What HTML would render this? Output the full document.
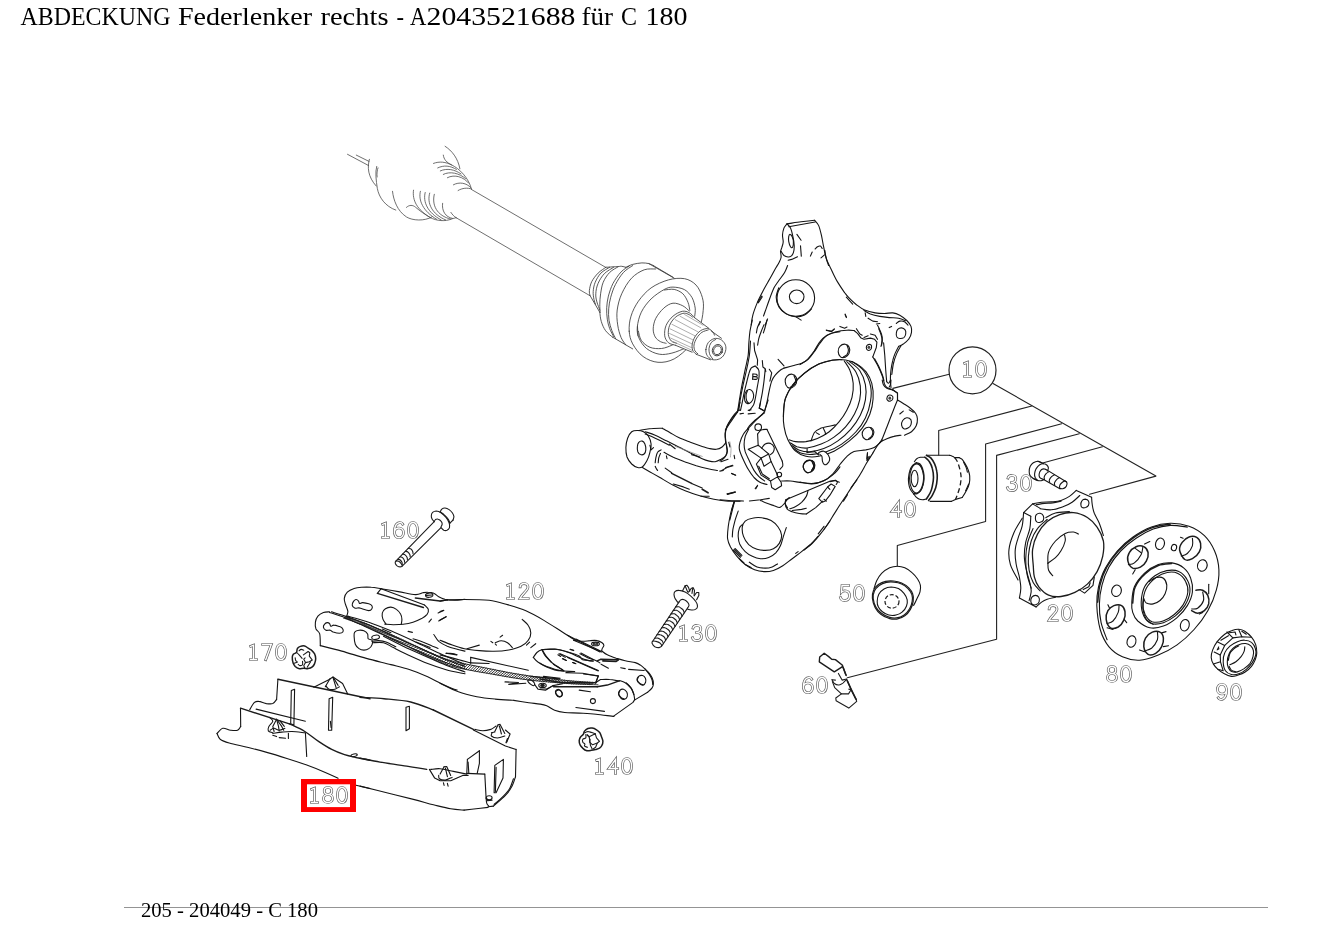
<!DOCTYPE html>
<html><head><meta charset="utf-8"><title>ABDECKUNG Federlenker rechts</title>
<style>
html,body{margin:0;padding:0;background:#fff;}
body{width:1326px;height:937px;overflow:hidden;font-family:"Liberation Serif",serif;}
svg{display:block;position:absolute;left:0;top:0;will-change:transform;}
.t{font-family:"Liberation Serif",serif;font-size:25.5px;fill:#000;stroke:none;}
.f{font-family:"Liberation Serif",serif;font-size:20px;fill:#000;stroke:none;}
.o{stroke:#5a5a5a;stroke-width:2.7}.i{stroke:#fff;stroke-width:1.4}
</style></head><body>
<svg width="1326" height="937" viewBox="0 0 1326 937" fill="none" stroke-linecap="round" stroke-linejoin="round">
<rect x="0" y="0" width="1326" height="937" fill="#fff" stroke="none"/>
<g class="t" opacity="0.999">
<text x="20.5" y="25" textLength="150" lengthAdjust="spacingAndGlyphs">ABDECKUNG</text>
<text x="178" y="25" textLength="134" lengthAdjust="spacingAndGlyphs">Federlenker</text>
<text x="320.5" y="25" textLength="68" lengthAdjust="spacingAndGlyphs">rechts</text>
<text x="396.5" y="25" textLength="7.5" lengthAdjust="spacingAndGlyphs">-</text>
<text x="410" y="25" textLength="16.3" lengthAdjust="spacingAndGlyphs">A</text>
<text x="426.6" y="25" textLength="148.8" lengthAdjust="spacingAndGlyphs">2043521688</text>
<text x="581.5" y="25" textLength="31.5" lengthAdjust="spacingAndGlyphs">für</text>
<text x="621" y="25" textLength="16" lengthAdjust="spacingAndGlyphs">C</text>
<text x="645.5" y="25" textLength="42" lengthAdjust="spacingAndGlyphs">180</text>
</g>
<rect x="124" y="907" width="1144" height="1" fill="#949494" stroke="none"/>
<text class="f" opacity="0.999" x="141" y="917.4" textLength="177" lengthAdjust="spacingAndGlyphs">205 - 204049 - C 180</text>
<defs><path id="d0" d="M6 1.5C2.8 1.5 1.5 5.2 1.5 9C1.5 12.8 2.8 16.5 6 16.5C9.2 16.5 10.5 12.8 10.5 9C10.5 5.2 9.2 1.5 6 1.5Z"/><path id="d1" d="M3.7 3.3L6.5 2.2L6.5 16.5M3.6 16.5L9.4 16.5"/><path id="d2" d="M2.1 4.9C2.1 0.4 10 0.4 10 5.1C10 8.7 4.4 11.5 1.9 16.5L10.2 16.5"/><path id="d3" d="M2 4C3 0.5 9.8 0.5 9.8 4.8C9.8 7.4 7.6 8.5 5.6 8.5M5.6 8.5C8 8.5 10.5 9.7 10.5 12.5C10.5 17.5 2.8 18 1.5 13.8"/><path id="d4" d="M8.5 16.5L8.5 2.6L1.9 11.5L10.7 11.5"/><path id="d5" d="M9.6 1.5L3 1.5L2.5 8.2C4.2 6.3 10.5 5.9 10.5 11.4C10.5 17.5 2.8 18 1.5 13.7"/><path id="d6" d="M9.7 3.2C8.2 0.3 1.5 0.7 1.5 10.4C1.5 18.6 10.5 18.6 10.5 11.8C10.5 5.5 1.5 5.5 1.5 11.2"/><path id="d7" d="M1.7 1.5L10.3 1.5L4.7 16.7"/><path id="d8" d="M6 8.5C3.8 8.5 2.2 7.1 2.2 5C2.2 2.9 3.8 1.5 6 1.5C8.2 1.5 9.8 2.9 9.8 5C9.8 7.1 8.2 8.5 6 8.5C3.4 8.5 1.5 10.2 1.5 12.5C1.5 14.8 3.4 16.5 6 16.5C8.6 16.5 10.5 14.8 10.5 12.5C10.5 10.2 8.6 8.5 6 8.5Z"/><path id="d9" d="M2.3 14.8C3.8 17.7 10.5 17.3 10.5 7.6C10.5 -0.6 1.5 -0.6 1.5 6.2C1.5 12.5 10.5 12.5 10.5 6.8"/></defs>
<g stroke="#4a4a4a" stroke-width="0.8"><path d="M347.5 154.3L368.7 165.6"/><path d="M356.3 155.1L369 161.4"/><path d="M369.4 159.3C367.1 167.1 367.9 177 376.2 186"/><path d="M376.7 166.4C375 172.4 376.2 180.7 377.3 188.3C378.9 197.3 385.2 206.4 395.8 210.1"/><path d="M378 167.9C377.1 170.2 376.7 173.5 377.1 177"/><path d="M392.5 191.3C393.5 200.3 397.3 210.9 406.4 216.9C412.4 220.7 424.5 221.4 432 216.9"/><path d="M406.4 207.4C409.4 204.6 412.7 204.9 415.4 207.1C419.9 210.9 424.5 214.2 430.5 217.7"/><path d="M413.5 190.2C412.1 200.3 416.9 209.7 430.5 217.7"/><path d="M420.4 191.3C418.1 200.3 423 211.2 436.5 219.2"/><path d="M425.2 192.5C422.7 201.8 427.5 212.7 441.1 219.9"/><path d="M429.7 193.1C426.7 203.3 432 214.2 445.6 219.9"/><path d="M434.3 194.3C431.7 204.9 436.5 215.7 450.9 219.2"/><path d="M442.6 203.3C441.5 210.9 445.6 217.2 452.4 218.4"/><path d="M450.9 212.4C452.4 214.7 453.9 216.3 456.1 217.7"/><path d="M430.5 217.7C436.5 221 445.6 221.7 451.6 218.9L456.1 217.7"/><path d="M445.1 146.3C451.9 150.6 457.9 158.1 459.9 168.7"/><path d="M443.3 155.1C443.8 159.6 446.8 162.6 451.6 164.9C459.5 168.7 468.5 177.7 471.5 189"/><path d="M433.5 163.4C439.5 161.1 445.6 161.9 451.6 164.9"/><path d="M437.7 167.9C444.1 164.9 450.1 165.6 456.4 169.4"/><path d="M440.3 170.9C447.1 167.9 454.6 169.4 461 173.9"/><path d="M443.3 174.4C450.1 170.9 459.2 173.2 465.5 178.5"/><path d="M447.4 177.7C454.6 173.9 463.7 177 468.5 183"/><path d="M453.4 184.8C459.2 181.5 466.7 183 470.6 187.5"/><path d="M458.1 190.5C462.2 188 467.5 187.5 471.5 189"/></g>
<g stroke="#4a4a4a" stroke-width="0.8"><path d="M471.5 189.5L605.6 267.3"/><path d="M456.1 217.7L589.6 295.5"/></g>
<g stroke="#3a3a3a" stroke-width="0.85"><path d="M605.9 267.3C604.6 268.3 600.4 270.7 598.1 273.1C595.7 275.5 593.2 278.8 591.7 281.7C590.3 284.6 589.7 288 589.4 290.4C589.1 292.7 589.9 294.7 590 295.5"/><path d="M590 295.5L599.8 312.3"/><path d="M599.8 312.3C600 313.8 600.3 318.4 601.3 321.5C602.2 324.6 603.7 328.1 605.6 330.7C607.4 333.3 611.3 336 612.5 337.1"/><path d="M612.5 337.1L632.7 348.9"/><path d="M609.6 267.3C608.1 268.3 603.3 270.6 600.9 273.1C598.5 275.6 596.5 279.2 595.2 282.3C593.9 285.4 593.4 288.6 593.2 291.5C593 294.4 593.6 297.5 594 299.6C594.4 301.7 595.3 303.4 595.5 304.2"/><path d="M613.6 267.3C612.1 268.4 607 270.9 604.4 273.6C601.8 276.3 599.5 280.1 598.1 283.4C596.6 286.8 595.9 290.7 595.8 293.8C595.6 296.9 596.2 299.2 596.9 301.9C597.6 304.6 599.3 308.6 599.8 310"/><path d="M618.2 266.7C616.8 267.7 612.1 269.9 609.6 272.5C607.1 275.1 604.7 278.7 603.2 282.3C601.7 285.8 601.2 290.2 600.6 293.8C600 297.5 599.9 301.1 599.8 304.2C599.7 307.3 600.1 310.9 600.1 312.3"/><path d="M605.9 267.3C606.9 267.2 609.8 267.1 611.9 266.9C614 266.8 616.6 266.7 618.2 266.6C619.9 266.5 620.4 266.1 621.7 266.3C622.9 266.4 625.1 267.1 625.7 267.3"/><path d="M625.7 267.3C626.9 266.8 630 265.1 632.7 264.4C635.3 263.7 639.2 263 641.9 262.9C644.6 262.8 646.9 263.2 648.8 263.6C650.7 264 652.6 265.2 653.4 265.6"/><path d="M648.8 263.6L674.2 278.2"/><path d="M653.4 265.6L673 277.2"/><path d="M629.2 266.1C627.8 267.1 623.8 269 621.1 271.9C618.4 274.8 615.2 279.4 613 283.4C610.9 287.5 609.5 292.1 608.4 296.1C607.4 300.2 606.9 303.8 606.7 307.7C606.5 311.5 606.8 315.7 607.3 319.2C607.8 322.6 608.5 325.5 609.6 328.4C610.6 331.3 613 335.1 613.6 336.5"/><path d="M632.7 265.6C631.1 266.7 626.3 269.3 623.4 272.5C620.5 275.7 617.5 280.5 615.4 284.6C613.2 288.7 611.9 293.2 610.7 297.3C609.6 301.3 609 305 608.7 308.8C608.4 312.6 608.5 316.7 609 320.3C609.6 324 610.8 327.7 611.9 330.7C613 333.7 615 337.2 615.6 338.6"/><path d="M655.7 269C653.8 269.2 648.2 268.3 644.2 269.8C640.1 271.4 635.2 274.3 631.5 278.2C627.7 282.2 624.1 288.5 621.7 293.8C619.3 299.1 617.9 304.8 617.2 310C616.5 315.1 617 320.3 617.7 324.9C618.3 329.6 619.8 334.3 621.1 337.6C622.5 340.9 625 343.6 625.7 344.8"/></g>
<g stroke="#3a3a3a" stroke-width="0.85"><path d="M629.2 331.2C628.9 326.6 629.4 321.2 631 316.2C632.5 311.2 635.1 305.9 638.4 301.2C641.8 296.5 646.1 291.5 651.1 287.9C656.1 284.4 662.9 281.4 668.4 279.9C674 278.3 680 277.9 684.6 278.7C689.2 279.6 693.1 281.9 696.1 285.1C699.1 288.2 701.2 293.5 702.4 297.7C703.6 302 703.7 305.4 703.2 310.4C702.8 315.4 701.7 322 699.6 327.7C697.4 333.5 694.6 339.8 690.3 345C686.1 350.2 679.6 356 674.2 358.9C668.8 361.7 663.2 362.7 658 362.3C652.9 361.9 647.3 359.6 643.1 356.5C638.8 353.5 635 348.1 632.7 343.9C630.4 339.6 629.5 335.8 629.2 331.2Z"/><path d="M685.1 348.2C682.9 349.1 676.2 352.1 671.9 353.1C667.6 354.1 663.4 355 659.2 354.2C655 353.5 649.9 351.2 646.5 348.5C643.2 345.8 640.6 341.7 639 338.1C637.5 334.5 636.9 331.5 637.3 327.1C637.7 322.8 639 316.9 641.3 312.2C643.6 307.4 647.3 302.7 651.1 298.9C655 295.1 660.7 291.4 664.4 289.4C668 287.5 669.7 287.1 673 287.1C676.4 287.2 681.4 287.9 684.6 289.7C687.7 291.4 690.3 294.7 692.1 297.7C693.8 300.8 694.7 305 695.2 308.1C695.6 311.2 694.8 314.8 694.7 316.2"/><path d="M664.4 290C666 289.9 671.1 288.8 674.2 289.4C677.3 290.1 680.5 291.6 682.8 293.7C685.1 295.9 686.9 299.6 688 302.4C689.2 305.1 689.5 309.1 689.8 310.4"/><path d="M638.4 331.2C638.9 332.7 639.4 337.7 641.3 340.4C643.3 343.1 646.6 346 650 347.3C653.3 348.7 657.9 348.8 661.5 348.5C665.2 348.1 669.2 346.4 671.9 345.2C674.6 344.1 676.7 342.2 677.7 341.6"/><path d="M637.5 326.6L638 335.8"/><path d="M694.4 317.3L689.2 312.7L682.3 311.3L673 316.2L666.1 325.4L664.7 335.8L668.4 342.7L675.3 345.2L692.1 352.2L696.7 354.5L710.5 359.8L718 359.4L723.2 356L725.8 349.6L724.9 343.9L720.3 339.3L714.5 335.2L708.8 328.3Z" fill="#fff" stroke="none"/><path d="M689.2 311C688.1 310.1 685.5 307.1 682.8 305.8C680.1 304.5 676.2 302.8 673 303.2C669.9 303.5 666.7 305.6 663.8 308.1C660.9 310.7 657.5 315 655.7 318.5C654 322 653.3 325.8 653.2 328.9C653.1 331.9 654 334.8 655.2 336.9C656.4 339.1 658.5 340.5 660.4 341.6C662.2 342.6 665.2 343 666.1 343.3"/><path d="M694.4 317.3C693.5 316.6 691.2 313.7 689.2 312.7C687.2 311.7 685 310.8 682.3 311.3C679.6 311.9 675.7 313.8 673 316.2C670.3 318.5 667.5 322.1 666.1 325.4C664.7 328.7 664.4 332.9 664.7 335.8C665.1 338.7 666.7 341.1 668.4 342.7C670.2 344.3 674.2 344.8 675.3 345.2"/><path d="M692.6 317.1C691.9 316.6 689.7 314.7 688 314.1C686.4 313.5 685 312.9 682.8 313.4C680.7 314 677.6 315.3 675.3 317.3C673.1 319.3 670.7 322.5 669.6 325.4C668.4 328.3 668.1 332 668.4 334.6C668.7 337.2 670 339.6 671.3 341C672.7 342.4 675.6 342.8 676.5 343.2"/><path d="M693.8 317.1L708.8 328.3"/><path d="M675.3 345.2L692.1 352.2"/><path d="M714.5 335.2C714.2 334.5 713.4 332.3 712.2 331.2C711.1 330.1 709.5 328.7 707.6 328.6C705.7 328.5 702.8 329.2 700.7 330.6C698.6 332 696.4 334.5 694.9 336.9C693.5 339.3 692.4 342.6 692.1 345C691.8 347.4 692.4 349.8 693.2 351.4C694 352.9 696.1 354 696.7 354.5"/><path d="M708.2 330C707.1 330.4 703.8 331 701.9 332.3C699.9 333.7 698 336 696.7 338.1C695.4 340.2 694.3 342.9 694 345C693.7 347.1 694.3 349.3 694.9 350.8C695.6 352.2 697.3 353.2 697.8 353.7"/><path d="M696.7 354.5L710.5 359.8"/><path d="M711.1 330.9L721.5 338.3"/><path d="M705.9 349.6C706.1 347.5 706.9 344.5 708.2 342.7C709.5 340.9 712 339.3 714 338.7C716 338.1 718.5 338.4 720.3 339.3C722.1 340.1 724 342.1 724.9 343.9C725.8 345.6 726.1 347.6 725.8 349.6C725.6 351.6 724.5 354.3 723.2 356C721.9 357.6 719.9 358.9 718 359.4C716.1 360 713.5 360.1 711.7 359.4C709.8 358.8 708 357 707.1 355.4C706.1 353.8 705.7 351.7 705.9 349.6Z"/><path d="M715.7 339.5C714.9 340 712.2 341.2 711.1 342.7C710 344.2 709.2 346.5 709 348.5C708.8 350.5 709.3 353.1 709.9 354.8C710.6 356.5 712.3 358.2 712.8 358.9"/><ellipse cx="717.5" cy="350.2" rx="5.1" ry="5.8" transform="rotate(25 717.5 350.2)"/><ellipse cx="717.5" cy="350.3" rx="3.8" ry="4.5" transform="rotate(25 717.5 350.3)"/></g>
<g stroke="#777" stroke-width="0.6"><path d="M684.6 314.5L703 325.2"/><path d="M680 316.2L700.7 327.7"/><path d="M675.3 319.7L698.4 332.1"/><path d="M671.9 324.3L695.5 336.1"/><path d="M670.2 328.9L693.6 340.2"/><path d="M669.6 333.5L692.4 344.1"/><path d="M670.7 338.1L692.1 347.9"/><path d="M673 341.6L692.6 350.6"/></g>
<g stroke="#141414" stroke-width="1.1"><path d="M787 223.8C789.3 223.5 796.5 222.4 801.1 221.8C805.7 221.2 812.3 220.5 814.6 220.3"/><path d="M788.7 226.7L815.1 222"/><path d="M814.6 220.3C815.2 221.2 817.5 222.9 818.7 225.6C819.8 228.2 820.8 232.6 821.6 236.1C822.4 239.7 822.8 243 823.6 246.7C824.4 250.4 825 254.5 826.3 258.4C827.6 262.4 829.7 266.3 831.6 270.2C833.4 274.1 835.3 278.2 837.5 281.9C839.6 285.6 843.3 290.7 844.5 292.5"/><path d="M787 223.8C786.5 224.5 784.8 226.1 784 227.9C783.3 229.8 782.6 232.6 782.5 235C782.4 237.3 783.3 239.9 783.2 242C783.1 244.2 782.1 246.3 781.7 247.9C781.2 249.4 780.7 250.8 780.5 251.4"/><path d="M780.5 251.4C780.6 252.4 781.3 255.5 781.1 257.3C780.9 259 780.3 260 779.3 262C778.4 263.9 776.9 266.1 775.2 269C773.6 271.9 771.3 276.1 769.4 279.6C767.4 283.1 765.4 286.4 763.5 290.1C761.5 293.9 759.4 297.8 757.6 301.9C755.9 306 754 310.9 752.9 314.8C751.8 318.7 751.4 323.3 751.2 325"/><path d="M787 223.8C787.6 224.5 789.5 225.9 790.5 227.9C791.5 230 792.2 233.2 792.8 236.1C793.5 239.1 794.1 242.8 794.2 245.5C794.3 248.3 794 250.8 793.4 252.6C792.9 254.3 792 255.4 791.1 256.1C790.2 256.8 789.3 257.1 788.1 257C787 256.9 785.2 256.4 784 255.5C782.9 254.6 781.6 252.1 781.1 251.4"/><path d="M789.9 234.4C790.5 234.4 791.7 235.4 792.2 236.7C792.8 238 793.4 240.2 793.4 242C793.5 243.8 793.1 246.5 792.6 247.3C792.1 248.1 791.1 247.7 790.5 246.7C789.8 245.7 789 243.1 788.7 241.4C788.4 239.8 788.5 237.9 788.7 236.7C788.9 235.5 789.3 234.4 789.9 234.4Z"/><path d="M796.9 234.4L801.1 240.2"/><path d="M800.5 245.8L801.3 256.1"/><path d="M788.1 260.2L791.7 259.4L797.5 256.7"/><path d="M810.4 256.1L812.2 252"/><path d="M815.1 249C815.5 248.7 816.6 247.2 817.5 246.7C818.4 246.2 819.6 245.8 820.4 246.1C821.2 246.4 821.9 248.1 822.2 248.5"/><path d="M821 257.9L824.5 254.9"/><path d="M824.8 250.2C824.9 251.2 825.4 254.3 825.7 256.1C826.1 257.9 826.4 259.2 826.9 260.8C827.4 262.4 828.4 264.7 828.6 265.5"/><path d="M787.6 265.5C787.1 266.7 786.1 270 784.6 272.5C783.1 275.1 780.5 278.2 778.7 280.8C777 283.3 775.6 284.7 774 287.8C772.5 290.9 770.8 295.6 769.4 299.5C767.9 303.5 766.2 308.5 765.2 311.3C764.3 314 763.8 315.2 763.5 316"/><path d="M767.6 318.9L765.2 325"/><path d="M760 321.3L758.8 325"/><path d="M757.6 302.5L761.7 296"/><path d="M758.4 302.8L762.3 296.8"/><ellipse cx="795.8" cy="298.0" rx="18.8" ry="18.2"/><path d="M778.7 287.8C778.3 289.4 776.2 294.1 776.2 297.2C776.2 300.3 777.1 303.8 778.7 306.6C780.4 309.3 783.1 311.9 785.8 313.6C788.5 315.3 792.1 316.6 795.2 316.8C798.3 317 801.8 316.3 804.6 315C807.3 313.7 810.4 309.9 811.6 308.9"/><ellipse cx="796.7" cy="296.8" rx="7.3" ry="6.8"/><path d="M846.3 297.2L852.7 304.2"/><path d="M845.1 314.8L846.3 317.1"/><path d="M796.4 317.1L801.1 320.1"/></g>
<g stroke="#141414" stroke-width="1.1"><path d="M844.5 292.5C845.3 293.4 847.3 296.2 849.3 298.2C851.3 300.3 853.8 302.7 856.4 304.7C858.9 306.6 861.4 308.6 864.6 310C867.7 311.3 871.8 312.3 875.1 312.9C878.5 313.5 881.6 313.5 884.5 313.5C887.5 313.5 890.2 312.6 892.8 312.9C895.3 313.2 897.5 314 899.8 315.2C902.1 316.5 905 318.7 906.8 320.5C908.7 322.4 910.2 324.4 911 326.4C911.7 328.4 911.9 330.1 911.5 332.3C911.2 334.4 910 337.4 908.6 339.3C907.2 341.3 905 342.8 903.3 344C901.7 345.2 899.4 346 898.6 346.4"/><path d="M898.6 346.4C898 347.5 896.1 351.1 895.1 353.4C894.1 355.8 893.4 357.7 892.8 360.4C892.1 363.2 891.4 366.7 891 369.8C890.6 373 890.4 376.3 890.4 379.2C890.4 382.2 890.9 386.1 891 387.5"/><path d="M901 345.8C900.2 347.2 897.5 351.5 896.3 354.6C895 357.6 894.1 360.6 893.3 364C892.6 367.3 892.1 372.8 891.8 374.5"/><path d="M896.3 323.5C896.9 323.1 898.4 321.4 899.8 321.1C901.2 320.8 903.1 321 904.5 321.7C905.9 322.4 907.4 324.6 908 325.2"/><path d="M896.3 333.4C896.4 332.2 896.8 330.3 897.7 329.3C898.6 328.4 900.3 327.8 901.6 327.9C902.8 328 904.4 328.9 905.1 329.9C905.8 330.9 905.9 332.8 905.7 334C905.5 335.3 904.9 336.8 903.9 337.6C902.9 338.3 901 338.6 899.8 338.5C898.6 338.4 897.5 337.8 896.9 337C896.3 336.1 896.1 334.7 896.3 333.4Z"/><path d="M864 310.5C865.1 311.1 867.8 313.1 870.4 314.1C873.1 315 876.7 315.8 879.8 316.4C883 317 886.1 317.3 889.2 317.6C892.4 317.9 895.9 317.7 898.6 318.2C901.4 318.7 904.5 320.3 905.7 320.8"/><path d="M865.2 312.9L865.8 316.4"/><path d="M868.1 318.2L872.8 321.1L877.5 321.7"/><path d="M845.2 314.1L846.4 317.6"/><path d="M876.3 324L879.8 323.5"/><path d="M889.2 327.6L891.6 326.4"/><path d="M800 364.6C801.2 363.8 804.7 362.1 807 359.9C809.4 357.6 811.9 354.1 814.1 351.1C816.2 348 817.8 344.3 820 341.7C822.1 339 824.3 336.9 827 335.2C829.7 333.5 833.1 332.5 836.4 331.7C839.7 330.8 844 330.4 847 330.2C849.9 330 852.8 330.4 854 330.5"/><path d="M854 330.5L857.5 333.4L861.1 338.1L864 339.3L870.4 338.1L874.6 339.3L876.9 342.2L876.3 347.5L872.8 356.9"/><path d="M872.8 356.9C873.6 358.3 875.9 362 877.5 365.1C879.1 368.3 881 372.6 882.2 375.7C883.4 378.8 883.8 382 884.5 383.9C885.3 385.9 885.5 386.5 886.9 387.5C888.3 388.4 891.8 389.4 892.8 389.8"/><path d="M892.8 389.8L897.5 393.3L897.5 400"/><path d="M874.6 358.7C875.2 360 877.4 363.7 878.7 366.3C879.9 369 881.3 372.2 882.2 374.5C883.1 376.9 883.7 379.4 883.9 380.4"/><path d="M883.6 342.8C883.8 345 884.4 351.3 884.8 355.8C885.1 360.3 885.4 365.5 885.7 369.8C886 374.1 886.5 379.6 886.7 381.6"/><path d="M886.7 381.6C887 381.9 888 383.5 888.6 383.3C889.3 383.1 890.1 380.9 890.4 380.4"/><path d="M826.4 330.5L831.7 331.1L834 329.3"/><path d="M839.9 326.4L844.6 328.2L847 327"/><path d="M856.4 328.7L859.9 334L862.2 335.2"/><path d="M864 337.6L868.1 335.8"/><path d="M870.4 334L875.1 335.2L877.5 339.3"/><path d="M877.5 325.2C877.9 326 879.1 328 879.8 329.9C880.6 331.9 881.9 334.4 882.2 337C882.5 339.5 881.7 343.8 881.6 345.2"/><path d="M878.7 328.7C879.1 329.7 880.4 332.7 881 334.6C881.6 336.6 882.2 338.5 882.2 340.5C882.2 342.4 881.2 345.4 881 346.4"/><path d="M838.2 351.6C838.1 349.9 838.7 347.6 839.9 346.4C841.1 345.1 843.6 344 845.2 344.2C846.8 344.4 848.7 346 849.3 347.5C850 349.1 849.8 351.8 849.1 353.4C848.4 355 846.6 356.6 845.2 357.2C843.8 357.7 841.7 357.8 840.5 356.9C839.3 356 838.3 353.4 838.2 351.6Z"/><path d="M847 345.2C847.2 346 848.4 348.3 848.4 349.9C848.4 351.4 847.8 353.4 847 354.6C846.1 355.8 844 356.5 843.4 356.9"/><path d="M866.3 347.5C866.3 346.7 866.8 345.4 867.5 344.9C868.2 344.5 869.8 344.3 870.4 344.6C871.1 344.9 871.7 346.1 871.6 346.9C871.6 347.8 870.9 349.4 870.2 349.9C869.5 350.4 868.2 350.5 867.5 350.1C866.9 349.7 866.3 348.4 866.3 347.5Z"/><ellipse cx="868.9" cy="347.3" rx="1.4" ry="1.6" fill="#444" stroke="none"/></g>
<g stroke="#141414" stroke-width="1.1"><path d="M752.3 320C751.9 322 750.5 327.8 749.9 331.7C749.4 335.7 749.1 339.6 748.8 343.5C748.5 347.4 748.8 350.9 748.2 355.2C747.6 359.5 746.2 364.6 745.2 369.3C744.3 374 743.2 378.9 742.3 383.4C741.4 387.9 740.7 391.6 740 396.3C739.2 401 738 409 737.6 411.6"/><path d="M737.6 412.2C736.8 413.2 734.5 416.4 732.9 418.6C731.3 420.9 729.5 423.8 728.2 425.7C726.9 427.6 725.8 429.3 725.3 430"/><path d="M750.5 341.1C750.3 343.5 750 350.3 749.4 355.2C748.7 360.1 747.5 365.4 746.4 370.5C745.3 375.6 744 380.7 742.9 385.8C741.8 390.8 740.6 396.9 740 401C739.3 405.1 739 408.8 738.8 410.4"/><path d="M760.5 321.8C760 322.6 758.3 325.2 757.6 327C756.9 328.9 756.6 331.9 756.4 332.9"/><path d="M764 324.7C763.5 325.9 762 329.4 761.1 331.7C760.2 334.1 759.3 336.5 758.7 338.8C758.2 341 757.8 344.2 757.6 345.2"/><path d="M767 320C766.7 321.2 765.8 324.9 765.2 327C764.6 329.2 763.7 331.9 763.4 332.9"/><path d="M754 342.9L754.6 350.5L757.6 359.9L757.3 365.2"/><path d="M755.2 366C754.5 366.4 752.2 366.8 751.1 368.1C750 369.5 749.5 371.5 748.8 374C748 376.6 747.2 380.3 746.4 383.4C745.6 386.5 744.8 389.7 744.1 392.8C743.4 395.9 742.9 399.3 742.3 402.2C741.7 405.1 740.8 409 740.5 410.4"/><path d="M755.2 366C755.8 366.7 758.1 368.2 758.7 369.9C759.4 371.6 759.3 373.5 759.1 376.4C758.9 379.2 757.9 383.4 757.3 386.9C756.7 390.4 756.1 394.5 755.5 397.5C754.8 400.5 754.5 402.9 753.5 405.1C752.4 407.3 750 409.7 749.4 410.6"/><path d="M752.9 374C753.5 374 755.7 373.9 756.4 374.2C757.1 374.6 757.5 375.7 757 376.1C756.5 376.5 754 376.5 753.5 376.6"/><path d="M753.5 376.6C754 376.7 756.5 376.6 757 377.1C757.5 377.5 757.4 379 756.6 379.3C755.9 379.6 753.3 379.1 752.6 379.1"/><path d="M752.9 374L752.6 379.1"/><path d="M744.7 395.1C744.9 393.5 745.5 392 746.4 391C747.3 390.1 748.9 389.3 749.9 389.5C751 389.7 752.3 390.9 752.9 392.2C753.5 393.5 753.8 395.8 753.5 397.5C753.2 399.2 752.1 401.2 751.1 402.2C750.1 403.2 748.6 403.8 747.6 403.6C746.6 403.4 745.4 402.4 744.9 401C744.4 399.6 744.4 396.8 744.7 395.1Z"/><path d="M747.6 390.4C747.3 391.2 746.2 393.4 746.1 395.1C745.9 396.9 746.3 399.7 746.8 401C747.2 402.3 748.4 402.8 748.8 403.1"/><path d="M762.3 360.5L762.9 367L765.2 368.7L765.8 371.7"/><path d="M769.3 369.3L771.7 372.8L769.9 381.1"/><path d="M778.1 359.3L784 365.8"/><path d="M765.2 369.3C765 371.3 764.5 377.1 764 381.1C763.5 385 762.9 389.3 762.3 392.8C761.7 396.3 761 399.6 760.5 402.2C760 404.7 759.5 407.1 759.3 408.1"/><path d="M759.3 408.1L764.6 411"/><path d="M764.6 411C765 409.5 766.2 405.6 767 402.2C767.7 398.8 768.5 394 769.3 390.4C770.1 386.9 770.7 383.6 771.7 381.1C772.6 378.5 773.8 376.9 775.2 375.2C776.6 373.4 778.4 371.7 779.9 370.5C781.3 369.3 783.3 368.5 784 368.1"/><path d="M784 368.1C785.5 367.7 789.8 366.7 792.8 365.8C795.8 364.9 799.6 363.9 802.2 362.9C804.7 361.8 806.1 361.1 808.1 359.3C810 357.6 812 354.9 813.9 352.3C815.9 349.6 817.8 346.1 819.8 343.5C821.8 340.8 823.5 338.2 825.7 336.4C827.8 334.7 830.3 333.7 832.7 332.9C835.1 332.1 838.8 331.9 840 331.7"/><path d="M740 413.9L743.5 413.3"/><path d="M748.2 413.9L755.2 413.3"/><path d="M748.2 410.4L751.1 409.8"/><path d="M764.6 412.8C763.6 413.5 760.7 415.7 758.7 417.5C756.8 419.2 754.7 421.4 752.9 423.3C751 425.3 748.5 428.2 747.6 429.2"/><path d="M785.2 381.6C785.1 379.8 785.8 377.6 786.9 376.4C788.1 375.1 790.6 374 792.2 374.2C793.8 374.4 795.6 376 796.3 377.5C797 379.1 797 381.7 796.3 383.4C795.6 385.1 793.7 386.9 792.2 387.5C790.7 388.1 788.7 388.1 787.5 387.2C786.3 386.2 785.3 383.4 785.2 381.6Z"/><path d="M794 375.8C794.3 376.6 795.7 378.9 795.7 380.5C795.7 382 794.9 384 794 385.2C793.1 386.3 791 386.8 790.4 387.2"/><path d="M826.3 330L831.5 331.7L834.5 328.8"/></g>
<g stroke="#141414" stroke-width="1.1"><path d="M783.4 414C783.7 409.3 783.8 403.6 785.4 398.7C787 393.8 789.9 388.8 793.1 384.6C796.3 380.3 800.3 376.5 804.6 373.1C808.8 369.6 814 366.3 818.7 364.1C823.4 361.9 828.3 360.7 832.8 360C837.2 359.3 841.5 359.3 845.6 360C849.6 360.7 853.7 362.1 857.1 364.1C860.5 366.1 863.6 368.6 866.1 371.8C868.5 375 870.6 378.8 871.8 383.3C873 387.8 873.4 393.5 873.1 398.7C872.8 403.8 871.7 409.1 869.9 414C868.1 418.9 865.6 423.6 862.2 428.1C858.8 432.6 854.1 437.1 849.4 440.9C844.7 444.8 839.2 448.6 834 451.2C828.9 453.7 823.4 455.4 818.7 456.3C814 457.2 809.7 457.2 805.9 456.3C802 455.4 798.6 454 795.6 451.2C792.6 448.4 789.9 443.7 787.9 439.7C786 435.6 784.8 431.1 784.1 426.8C783.3 422.6 783.2 418.7 783.4 414Z"/><path d="M783.4 416.6C783.7 413.7 783.6 404.6 785.1 399.3C786.7 394 789.6 389.2 792.8 384.8C796 380.5 800.1 376.7 804.3 373.3C808.6 369.9 813.7 366.5 818.4 364.3C823.1 362.2 828.6 361 832.5 360.2C836.4 359.5 840.2 359.8 841.7 359.7"/><path d="M844.3 360.9C845.2 362.5 848.6 366.8 850 370.5C851.5 374.2 852.9 378.8 853.2 383.3C853.6 387.8 853 392.9 852 397.4C850.9 401.9 849 406.1 846.8 410.2C844.7 414.3 842.1 418.1 839.2 421.7C836.2 425.4 832.5 429.2 828.9 432C825.3 434.7 821.2 436.8 817.4 438.4C813.5 440 809.5 441 805.9 441.6C802.2 442.1 798.4 441.9 795.6 441.6C792.8 441.3 790.3 440 789.2 439.7"/><path d="M846.8 361.5C848.3 363.2 853.6 367.7 855.8 371.8C858.1 375.8 859.7 381.2 860.3 385.9C860.9 390.6 860.6 395.3 859.7 399.9C858.7 404.6 856.9 409.6 854.5 414C852.2 418.5 849 423 845.6 426.8C842.1 430.7 838.1 434.2 834 437.1C830 440 825.7 442.3 821.2 444.1C816.7 445.9 811.2 447.5 807.1 448C803.1 448.4 799.7 447.5 796.9 446.7C794.1 445.8 791.6 443.5 790.5 442.9"/><path d="M849.4 361.5C851.1 363 857 366.6 859.7 370.5C862.3 374.3 864.5 379.7 865.4 384.6C866.4 389.5 866.3 394.8 865.4 399.9C864.6 405.1 862.7 410.4 860.3 415.3C857.8 420.2 854.4 425.1 850.7 429.4C847 433.7 842.4 437.7 837.9 440.9C833.4 444.1 828.5 446.8 823.8 448.6C819.1 450.4 813.9 451.6 809.7 451.8C805.5 452 801.8 451 798.8 449.9C795.8 448.8 792.9 446.2 791.8 445.4"/><path d="M852 361.5C853.9 363 860.4 366.4 863.5 370.5C866.6 374.5 869.4 380.7 870.5 385.9C871.7 391 871.4 395.9 870.5 401.2C869.7 406.6 867.9 412.8 865.4 417.9C863 423 859.8 427.6 855.8 432C851.9 436.3 846.6 440.8 841.7 444.1C836.8 447.4 831.3 450.1 826.4 451.8C821.4 453.5 816.5 454.2 812.3 454.4C808 454.6 803.9 454.2 800.7 453.1C797.5 452 794.3 448.8 793.1 448"/><path d="M811 440.9C811.6 439.4 813.1 434.1 814.8 432C816.5 429.8 819.3 429 821.2 428.1C823.2 427.3 824 427.4 826.4 426.8C828.7 426.3 833.8 425.2 835.3 424.9"/><path d="M816.1 432.6L819.3 434.5"/><path d="M823.2 428.1L825.1 432L825.7 434.5"/><path d="M818.7 452.5C819.5 452.2 822.2 450.8 823.8 451.2C825.4 451.6 827.3 453.5 828.3 455C829.2 456.5 829.8 458.6 829.6 460.1C829.3 461.6 827.8 463.2 827 464C826.1 464.7 825.2 465.1 824.4 464.6C823.7 464.2 822.9 462.8 822.5 461.4C822.1 460 822.3 457.5 821.9 456.3C821.4 455.1 820.3 454.7 819.9 454.4" fill="#fff"/><path d="M807.1 448.6L807.1 452.5"/><path d="M807.1 452.5L814.8 451.8"/><path d="M814.2 451.2L818.7 455"/></g>
<g stroke="#141414" stroke-width="1.1"><path d="M737.6 411.7C736.6 412.9 733.5 416.2 731.7 418.8C730 421.3 728.1 424.5 727 427C726 429.5 725.4 431.3 725.3 434C725.1 436.8 725.8 440.5 726.1 443.4C726.4 446.4 727.3 449.3 727 451.7C726.8 454 725.9 456 724.7 457.5C723.5 459.1 720.8 460.5 720 461.1"/><path d="M740 402.3C739.8 403.1 739.2 405.5 738.8 407C738.4 408.6 737.8 411 737.6 411.7"/><path d="M760.5 402.3L759.3 408.2L764.6 411.2L768.1 400"/><path d="M764.6 411.7C763.8 412.5 761.7 414.9 759.9 416.4C758.2 418 755.8 419.6 754 421.1C752.3 422.7 750.4 424.6 749.4 425.8C748.3 427.1 747.9 428.3 747.6 428.8"/><ellipse cx="758.2" cy="427.2" rx="3.3" ry="3.3"/><path d="M748.2 428.2C747.4 429.2 744.9 431.7 743.5 434C742.1 436.4 740.6 439.7 740 442.3C739.3 444.8 738.9 446.6 739.4 449.3C739.9 452.1 741.4 455.4 742.9 458.7C744.4 462 746.3 466.1 748.2 469.3C750 472.4 752.1 475.3 754 477.5C756 479.6 757.8 481 759.9 482.2C762.1 483.4 765.8 484.1 767 484.5"/><path d="M748.8 428.8C748.2 430 746 433.8 745.2 436.4C744.5 439 744.1 442.1 744.1 444.6C744.1 447.2 744.4 448.9 745.2 451.7C746.1 454.4 747.9 457.9 749.4 461.1C750.8 464.2 752.5 467.9 754 470.4C755.6 473 757 474.6 758.7 476.3C760.5 478.1 763.6 480.2 764.6 481"/><path d="M757.6 434C758.2 433.4 759.5 430.7 761.1 429.9C762.7 429.2 766 429.5 767 429.4"/><path d="M767 429.4L782.2 461.1"/><path d="M782.2 461.1C782.3 461.8 783.2 464.4 782.8 465.8C782.4 467.1 780.4 468.7 779.9 469.3"/><path d="M757.6 434L758.2 445.8"/><path d="M748.2 449.3L758.2 445.2L768.7 454L761.1 458.1Z"/><path d="M768.7 454L771.1 461.6L764 466.3L761.1 458.1"/><path d="M761.7 448.1C762.3 447.5 763.7 444.8 765.2 444C766.7 443.2 769 443 770.5 443.4C772 443.9 773.5 445.6 774 447C774.5 448.3 774 450.4 773.4 451.7C772.8 452.9 771 454.1 770.5 454.6"/><path d="M761.1 458.1L756.4 464L761.1 475.1L770.5 481"/><path d="M758.7 466.3L762.3 474L769.3 478.7"/><path d="M771.1 461.6L777.5 475.1"/><path d="M770.5 481L777.5 476.9L781.1 482.2L781.6 485.7L775.2 489.8L771.7 487.5Z"/><ellipse cx="779.3" cy="474.6" rx="2.3" ry="2.3"/><path d="M803.1 466.9C802.9 465.3 803.8 463.4 804.8 462.2C805.8 461.1 807.7 460.1 809.2 460.1C810.8 460.1 813 461 813.9 462.2C814.8 463.5 814.9 465.9 814.5 467.5C814.1 469.1 813 470.8 811.6 471.6C810.2 472.4 807.7 473 806.3 472.2C804.9 471.4 803.4 468.6 803.1 466.9Z"/><path d="M812.2 461.6C812.4 462.4 813.8 464.9 813.7 466.3C813.6 467.8 811.9 469.8 811.6 470.4"/><path d="M781.6 481C783.1 481 787 480.7 790.4 481C793.9 481.3 798.3 482.4 802.2 482.8C806.1 483.2 810 483.9 813.9 483.4C817.8 482.9 822.1 481.6 825.7 479.8C829.2 478.1 832.7 474.9 835.1 472.8C837.5 470.6 839.2 467.9 840 466.9"/><path d="M785.8 499.8L830.4 481L835.7 480.4"/><path d="M835.7 480.4C835.9 480.7 837.3 481.5 837.4 482.2C837.5 482.9 836.4 484.1 836.2 484.5"/><path d="M785.8 499.8C785.7 500.4 784.9 502 785.2 503.3C785.5 504.7 787.1 507.2 787.5 508"/><path d="M789.3 497.5L785.8 501"/><path d="M720 499.8C722 500 727.8 500.5 731.7 500.7C735.7 500.9 741.5 500.9 743.5 501"/><path d="M749.4 501L760.5 499.8L769.3 498.4"/><path d="M760.5 500.4C761.6 500.9 764.7 502.4 767 503.3C769.2 504.2 771.9 505 774 505.7C776.2 506.4 778.1 507.8 779.9 507.4C781.6 507 783.8 504 784.6 503.3"/><path d="M734.1 502.1L731.7 510"/><path d="M721.8 470.4L727 467.5L732.9 465.8"/><path d="M731.7 473.4L735.3 475.1"/><path d="M727 493.9L735.3 492.2"/><path d="M755.2 488.6L757 486.3"/><path d="M728.8 442.3L730 447"/><path d="M734.1 455.2L734.7 458.7"/></g>
<g stroke="#141414" stroke-width="1.1"><path d="M882.2 380C882.4 380.8 882.6 383.3 883.4 384.7C884.1 386.1 885.3 387.3 886.9 388.2C888.5 389.1 891.8 389.7 892.8 390"/><path d="M892.8 390L897.5 392.9L897.5 400"/><path d="M891 380C890.9 380.8 890.7 383.5 890.4 384.7C890.1 385.9 889.4 386.7 889.2 387"/><path d="M886.9 398.2C887 397.3 887.8 395.7 888.6 395.3C889.5 394.9 891.5 395.3 892.2 395.9C892.9 396.4 893 397.9 892.8 398.8C892.5 399.7 891.2 400.8 890.4 401.1C889.6 401.4 888.4 401 887.8 400.5C887.2 400.1 886.7 399.1 886.9 398.2Z"/><ellipse cx="889.8" cy="398.2" rx="1.4" ry="1.6" fill="#444" stroke="none"/><path d="M897.5 400C898.4 400.5 901.2 402.1 903.3 403.5C905.5 404.9 908.3 406.5 910.4 408.2C912.4 409.8 914.5 411.7 915.7 413.5C916.8 415.2 917.3 416.7 917.4 418.7C917.5 420.8 917.2 423.6 916.2 425.8C915.3 427.9 913.5 430.1 911.5 431.7C909.6 433.2 905.7 434.6 904.5 435.2"/><path d="M901 435.2C899.8 435.4 896.3 435.8 893.9 436.4C891.6 436.9 889 437.8 886.9 438.7C884.7 439.6 882 441.2 881 441.6"/><path d="M897.5 400C896.7 401.9 894.5 407.2 892.8 411.7C891 416.2 888.6 422.5 886.9 427C885.1 431.5 883.4 436.1 882.2 438.7C881 441.3 880.2 442.1 879.8 442.8"/><path d="M899.8 414L903.3 411.1"/><path d="M909.2 409.9L913.3 412.3"/><path d="M901.6 425.2C901.4 423.8 901.9 421.7 902.7 420.5C903.6 419.3 905.5 417.9 906.8 417.8C908.2 417.7 910.3 418.8 911 419.9C911.6 421.1 911.4 423.2 911 424.6C910.5 426 909.2 427.5 908 428.1C906.8 428.8 905 429.2 903.9 428.7C902.8 428.2 901.8 426.6 901.6 425.2Z"/><path d="M881 441.6C880 442.5 877.7 445.6 875.1 446.9C872.6 448.3 869.3 449.1 865.8 449.9C862.2 450.6 857.1 450.5 854 451.6C850.9 452.7 849.3 454.2 847 456.3C844.6 458.5 842.3 461.6 839.9 464.5C837.6 467.5 835.6 471.2 832.9 473.9C830.1 476.7 827 479.3 823.5 481C820 482.6 815.7 483.7 811.7 483.9C807.8 484.1 802 482.4 800 482.1"/><path d="M867.5 452.8L866.9 458.7L869.3 456.3"/><path d="M862.2 434.6C862 432.9 862.9 430.5 864 429.3C865.1 428.1 867.2 427.2 868.7 427.2C870.2 427.2 872.2 428.1 873 429.3C873.8 430.5 873.9 433 873.4 434.6C872.9 436.2 871.6 437.9 870.2 438.7C868.8 439.5 866.5 440 865.2 439.3C863.8 438.6 862.4 436.3 862.2 434.6Z"/><path d="M870.4 427.6C870.8 428.2 872.6 430.2 872.8 431.7C873 433.1 872.3 435.2 871.6 436.4C870.9 437.5 869.2 438.3 868.7 438.7"/><path d="M803.3 467.5C803 465.9 803.7 463.9 804.7 462.8C805.7 461.6 807.9 460.5 809.4 460.4C810.9 460.3 813 461 813.9 462.2C814.7 463.4 814.7 465.9 814.3 467.5C813.9 469 812.8 470.8 811.5 471.6C810.2 472.4 807.8 472.9 806.5 472.2C805.1 471.5 803.6 469 803.3 467.5Z"/><path d="M811.7 461C812.1 461.8 813.9 464.1 813.9 465.7C813.9 467.3 812.1 469.6 811.7 470.4"/></g>
<g stroke="#141414" stroke-width="1.1"><path d="M882.8 440C882 440.8 879.8 442.3 878.1 444.7C876.3 447 874.1 451 872.2 454.1C870.2 457.2 868.3 460.2 866.3 463.5C864.4 466.8 862.6 470.5 860.4 474C858.3 477.6 855.8 481.1 853.4 484.6C851.1 488.1 848.7 491.7 846.4 495.2C844 498.7 841.5 502.4 839.3 505.8C837.2 509.1 835.4 512 833.4 515.1C831.5 518.3 829.7 521.4 827.6 524.5C825.4 527.7 823.1 530.8 820.5 533.9C818 537.1 815 540.6 812.3 543.3C809.6 546 805.5 548.9 804.1 550"/><path d="M851.1 487.6L856.9 479.9"/><path d="M843.4 501.1L847.5 494.6"/><path d="M824 529.2L829.9 521"/><path d="M818.2 533.9L824 526.3"/><path d="M867.5 452.9L866.9 460.5L869.8 457.6"/><path d="M818.8 498.7L827.6 487L831.1 484L835.2 486.4L829.9 495.2L825.2 501.1L822.3 502.2Z"/><path d="M827.6 487L829.9 489.3"/><path d="M824 499.3L826.4 501.1"/><path d="M829.9 481.7L835.2 480.5L839.3 482.3"/></g>
<g stroke="#141414" stroke-width="1.1"><path d="M637.6 430.5C635.7 430.5 633.4 430.4 631.7 431.7C630.1 433 628.6 435.5 627.6 438.2C626.7 440.8 626 444.4 625.9 447.6C625.8 450.7 626.1 454.2 627 457C628 459.7 630 462.2 631.7 464C633.5 465.8 635.9 467 637.6 467.5C639.4 468 640.7 468.1 642.3 466.9C643.9 465.8 645.7 462.9 647 460.5C648.3 458 649.3 455 649.9 452.3C650.6 449.5 651.4 446.8 651.1 444C650.8 441.3 649.5 437.9 648.2 435.8C646.9 433.8 645.2 432.6 643.5 431.7C641.7 430.8 639.6 430.5 637.6 430.5Z"/><path d="M637.4 446.4C637.5 444.8 638 443.2 638.8 442.3C639.6 441.4 641.3 440.8 642.3 441.1C643.3 441.4 644.3 442.6 644.9 444C645.5 445.5 646 448.3 645.8 449.9C645.7 451.6 645 453.2 644.1 454C643.2 454.8 641.6 455 640.5 454.6C639.5 454.2 638.4 453.1 637.8 451.7C637.3 450.3 637.2 448 637.4 446.4Z"/><path d="M637.6 430.5C639.6 430.3 645.2 429.2 649.4 428.8C653.5 428.4 660.1 428.3 662.3 428.2"/><path d="M662.3 428.2C663.6 429 667.7 431.3 670.5 432.9C673.2 434.5 675.4 436 678.7 437.6C682 439.2 686.5 440.8 690.4 442.3C694.4 443.8 699.1 445.4 702.2 446.4C705.3 447.4 706.9 448 709.2 448.5C711.6 449 714.1 449.6 716.3 449.3C718.4 449.1 720.6 448.1 722.1 447C723.7 445.9 725.1 443.6 725.7 442.9"/><path d="M725.7 442.9C725.6 441.3 724.9 436.2 725.1 433.5C725.3 430.7 725.8 429 726.8 426.4C727.9 423.9 729.8 420.8 731.5 418.2C733.3 415.7 736 412.5 737.4 411.2C738.8 409.8 739.6 410.2 740 410"/><path d="M645.2 431.7C646.9 432.3 651.6 433.7 655.2 435.2C658.8 436.8 663.1 439.2 667 441.1C670.9 443.1 674.8 445 678.7 447C682.6 448.9 686.5 450.9 690.4 452.9C694.4 454.8 699.1 457.4 702.2 458.7C705.3 460.1 707.1 460.6 709.2 461.1C711.4 461.6 713.1 462 715.1 461.7C717.1 461.4 719.2 460.3 721 459.3C722.7 458.3 724.6 457.2 725.7 455.8C726.7 454.4 727.3 453.1 727.4 451.1C727.5 449.1 726.5 445.2 726.3 444"/><path d="M645.2 434.1C646.9 434.8 651.2 436.3 655.2 438.2C659.2 440 667 444 669.3 445.2"/><path d="M669.3 444L675.2 448.7"/><path d="M691.6 454.6L699.8 457"/><path d="M649.9 445.2L651.1 449.9L653.5 447.6"/><path d="M661.1 449.9C660.5 450.3 658.5 450.9 657.6 452.3C656.7 453.6 656.2 456.4 655.8 458.1C655.4 459.9 655.3 462.1 655.2 462.8"/><path d="M660.5 453.4C660.2 454.2 659.1 456.6 658.7 458.1C658.4 459.7 658.3 462.1 658.2 462.8"/><path d="M655.2 466.4C655.4 466.7 656 468 656.4 468.7C656.8 469.4 657.4 470.2 657.6 470.5"/><path d="M664 452.3C665.5 453.1 669.4 455.4 672.8 457C676.3 458.5 680.7 460.2 684.6 461.7C688.5 463.1 692.4 464.6 696.3 465.8C700.2 466.9 704.5 467.9 708.1 468.7C711.6 469.5 715.9 470.2 717.5 470.5"/><path d="M719.8 471.1L723.3 470.5"/><path d="M725.7 467.5L732.7 465.2"/><path d="M666.4 455.8L667 458.7"/><path d="M665.2 468.1L671.7 472.8"/><path d="M691.6 483.4L702.2 488.1"/><path d="M642.3 467.5C643.7 468.3 647.6 470.6 650.5 472.2C653.5 473.9 656.2 475.4 659.9 477.5C663.6 479.7 668.5 482.9 672.8 485.1C677.1 487.4 681.3 489.3 685.8 491C690.3 492.8 695.1 494.3 699.8 495.7C704.5 497.1 709.6 498.4 713.9 499.2C718.2 500.1 721.3 500.6 725.7 501C730 501.3 737.6 501.3 740 501.3"/><path d="M673.4 484L683.4 486.9L689.3 489.3"/><path d="M701 496.3L709.2 496.3"/><path d="M731.5 473.4L735.7 475.2"/><path d="M727.4 494.5L735.1 492.2"/><path d="M721 461.7L728 459.3"/><path d="M734.5 501.6L729.8 520"/></g>
<g stroke="#1c1c1c" stroke-width="1.6"><path d="M671.7 473.4L691.6 483.4"/><path d="M702.2 489.3L708.1 492.8"/></g>
<g stroke="#888" stroke-width="0.7"><path d="M675.2 446.4L702.2 456.4"/><path d="M729.8 441.7C730 442.9 730.9 446.2 731 448.7C731.1 451.3 730.5 455.6 730.4 457"/></g>
<g stroke="#141414" stroke-width="1.1"><path d="M734.1 501.7C733.5 503.8 731.5 509.8 730.5 514C729.6 518.3 728.7 522.9 728.2 527C727.7 531.1 727.2 535.4 727.6 538.7C728 542 729 544 730.5 546.9C732.1 549.9 734.6 553.4 737 556.3C739.5 559.3 742.3 562.3 745.2 564.5C748.2 566.8 751.5 568.6 754.6 569.8C757.7 571 760.9 571.5 764 571.6C767.1 571.7 770.3 571.4 773.4 570.4C776.5 569.4 779.7 567.7 782.8 565.7C785.9 563.8 789.1 561 792.2 558.7C795.3 556.3 798.5 554.1 801.6 551.6C804.7 549.2 808.2 546.5 811 544C813.7 541.4 816.8 537.6 818 536.4"/><path d="M738.2 511.1C737.7 512.6 736.1 516.9 735.2 519.9C734.4 523 733.4 526.5 732.9 529.3C732.4 532.2 732.4 535.7 732.3 536.9"/><path d="M742.3 527C742.6 524.4 743.6 522.6 745.2 521.1C746.9 519.6 749.5 518.7 752.3 518.2C755 517.6 758.5 517.4 761.7 517.8C764.8 518.2 768.3 519 771.1 520.5C773.8 522 776.3 524.5 778.1 527C779.9 529.4 781.4 532.4 781.6 535.2C781.8 537.9 780.6 541.2 779.3 543.4C777.9 545.7 775.8 547.5 773.4 548.7C771.1 549.9 767.9 550.3 765.2 550.4C762.4 550.5 759.7 550.3 757 549.3C754.2 548.3 751 546.7 748.7 544.6C746.5 542.4 744.5 539.3 743.5 536.4C742.4 533.4 742 529.5 742.3 527Z"/><path d="M786.3 527.6C785.8 529 784.4 533.3 783.4 536.4C782.4 539.4 781.7 543 780.4 545.8C779.2 548.5 777.7 550.8 775.8 552.8C773.8 554.8 771.3 556.5 768.7 557.5C766.2 558.5 763.2 558.9 760.5 558.7C757.7 558.5 754.8 557.5 752.3 556.3C749.7 555.1 747.3 553.6 745.2 551.6C743.2 549.7 741.1 547.1 739.9 544.6C738.8 542 738.3 539.1 738.2 536.4C738.1 533.6 738.7 530.1 739.4 528.1C740 526.2 741.8 525.2 742.3 524.6"/><path d="M734.1 549.3L741.1 556.3"/><path d="M735 548.5L741.9 555.4"/><path d="M733.2 550.2L740.3 557.3"/><path d="M749.3 562.2C750.6 563 754.3 565.9 757 566.9C759.6 567.9 762.6 568.1 765.2 568.1C767.7 568.1 770.2 567.6 772.2 566.9C774.3 566.2 776.6 564.4 777.5 563.9"/><path d="M739.4 558.7L744 562.8"/><path d="M745.2 564.5L751.1 567.5"/><path d="M795.7 553.4L798.1 551.6"/><path d="M755.8 488.8L757.6 485.3"/><path d="M727.6 494.1L735.2 491.7"/><path d="M786.9 499.4C786.6 500.1 785 501.8 785.1 503.5C785.2 505.1 786.3 508 787.5 509.4C788.7 510.7 790.2 511 792.2 511.7C794.1 512.4 796.9 513.1 799.2 513.5C801.6 513.9 805.1 514 806.3 514"/><path d="M806.3 514L815.7 507.6L822.7 501.1"/><path d="M808 490.6C807.7 491.5 807.4 494.5 806.3 496.4C805.2 498.4 803.3 500.6 801.6 502.3C799.8 504 797.7 505.3 795.7 506.4C793.8 507.5 790.8 508.4 789.8 508.8"/><path d="M792.2 510.5L801.6 509.4L806.3 508.2"/></g>
<g stroke="#141414" stroke-width="1.1"><path d="M1032.6 503.9C1034.1 503.6 1038.5 502.5 1041.6 502.2C1044.7 501.9 1048.1 502.2 1051.3 501.9C1054.6 501.6 1058 501.5 1061 500.5C1064 499.6 1066.8 498.1 1069.4 496.4C1071.9 494.7 1075.1 491.4 1076.3 490.4"/><path d="M1076.3 490.4L1091.6 497.3"/><path d="M1040 508.7C1041.9 508.9 1047.6 510.1 1051.3 509.8C1055.1 509.6 1059 508.3 1062.4 507.1C1065.9 505.8 1069.3 504.1 1072.1 502.2C1075 500.3 1078.5 496.6 1079.8 495.5"/><path d="M1030.8 516.3L1023.6 512.6L1032.6 503.9L1040.2 508.4"/><path d="M1023.6 512.6C1023.4 514.8 1023.1 521.5 1022.2 525.8C1021.3 530.1 1019.2 534.3 1018 538.3C1016.9 542.2 1015.6 545.2 1015.3 549.4C1014.9 553.5 1015.3 558.6 1016 563.2C1016.6 567.9 1018.6 573 1019.4 577.1C1020.2 581.3 1020.8 584.7 1020.8 588.2C1020.8 591.7 1019.7 596.3 1019.4 597.9"/><path d="M1030.8 516.3C1030.6 518.4 1030.7 524.2 1029.8 528.6C1029 532.9 1026.6 537.8 1025.7 542.4C1024.7 547.1 1024.2 551.7 1024.3 556.3C1024.4 560.9 1025.4 565.8 1026.4 570.2C1027.3 574.6 1029 579.2 1029.8 582.7C1030.6 586.1 1031.3 588 1031.2 591C1031.1 594 1029.5 599.1 1029.1 600.7"/><path d="M1022.2 518.2C1020.8 520.6 1016.1 527.5 1013.9 532.7C1011.7 537.9 1009.6 544 1009 549.4C1008.4 554.7 1008.9 559.5 1010.4 564.6C1011.9 569.7 1016.8 577.3 1018 579.9"/><path d="M1019.4 597.9L1036.1 606.9"/><path d="M1036.1 606.9C1037 606.1 1039.8 603.4 1041.6 602.1C1043.5 600.8 1044.9 600.1 1047.2 599.3C1049.5 598.5 1054.1 597.6 1055.5 597.2"/><path d="M1091.6 497.3C1091.7 498.6 1091.8 502.3 1092.3 505C1092.7 507.6 1093.2 510.3 1094.3 513.3C1095.5 516.3 1097.7 519.3 1099.2 523C1100.7 526.7 1102.7 533.4 1103.4 535.5"/><path d="M1079.1 589.6L1084.6 593.1L1093 585.4L1094.3 577.1"/><path d="M1083.2 589.6L1088.8 586.8L1090.2 582.7"/><path d="M1031.2 588.2C1030.5 585.9 1028 579.2 1027.1 574.3C1026.1 569.5 1025.6 564.4 1025.7 559.1C1025.8 553.8 1026.5 547.5 1027.7 542.4C1029 537.3 1032.1 530.9 1033 528.6"/><path d="M1045.8 517.7C1047.4 516.9 1051.6 514 1055.5 513C1059.4 512 1067.1 511.9 1069.4 511.6"/><path d="M1040.2 591C1039.1 589.6 1035.1 586.1 1033.3 582.7C1031.4 579.2 1029.9 574.6 1029.1 570.2C1028.3 565.8 1028.1 561.2 1028.4 556.3C1028.8 551.4 1029.7 545.7 1031.2 541C1032.7 536.4 1034.8 532.1 1037.5 528.6C1040.1 525 1045.6 521 1047.2 519.5"/><path d="M1047.9 563.2C1048 561.4 1047.3 555.8 1048.6 552.1C1049.8 548.4 1052.7 544.2 1055.5 541C1058.3 537.9 1062.2 534.9 1065.2 533.4C1068.2 531.9 1071.3 531.9 1073.5 532C1075.7 532.1 1077.6 533.8 1078.4 534.1"/><path d="M1064.5 534.8C1064.6 535.8 1065.8 538.4 1065.2 541C1064.6 543.7 1062.7 548 1061 550.8C1059.4 553.5 1057.7 555.6 1055.5 557.7C1053.3 559.8 1049.1 562.3 1047.9 563.2"/><path d="M1047.9 563.2C1048 564.4 1047.7 568.1 1048.6 570.2C1049.4 572.3 1052 574.8 1052.7 575.7"/><path d="M1035.4 518.8C1035.3 517.6 1035.5 515.6 1036.3 514.7C1037.2 513.8 1039.1 513.1 1040.2 513.3C1041.4 513.5 1042.8 514.6 1043.3 515.8C1043.8 516.9 1043.8 519.1 1043.3 520.2C1042.8 521.3 1041.3 522 1040.2 522.3C1039.1 522.6 1037.6 522.5 1036.8 521.9C1036 521.3 1035.4 520 1035.4 518.8Z"/><path d="M1080.9 505C1080.8 503.9 1081.1 501.8 1081.9 500.8C1082.6 499.8 1084.2 499.1 1085.3 499.1C1086.4 499.2 1088 500.1 1088.5 501.1C1089 502.1 1089 504.2 1088.5 505.2C1088.1 506.3 1086.8 507.1 1085.7 507.5C1084.7 507.8 1082.9 507.9 1082.1 507.5C1081.3 507.1 1080.9 506.1 1080.9 505Z"/><path d="M1030.8 601.4C1030.7 600.2 1031.1 598.2 1031.9 597.2C1032.7 596.2 1034.2 595.4 1035.4 595.4C1036.5 595.4 1038.2 596.2 1038.8 597.2C1039.5 598.3 1039.5 600.6 1039.1 601.8C1038.7 603 1037.4 604.1 1036.3 604.6C1035.3 605 1033.5 605.1 1032.6 604.6C1031.7 604.1 1030.9 602.6 1030.8 601.4Z"/></g>
<g stroke="#1c1c1c" stroke-width="1.3"><path d="M1036.3 504.7C1037.7 504.5 1041.7 503.6 1044.4 503.3C1047.1 503 1049.9 503.3 1052.7 502.9C1055.5 502.5 1059.7 501.4 1061 501.1"/><path d="M1033.3 566C1033 561.4 1031.9 554.7 1032.6 549.4C1033.3 544 1035 538.7 1037.5 534.1C1039.9 529.5 1043.5 524.9 1047.2 521.6C1050.9 518.4 1055.3 516.2 1059.7 514.7C1064 513.2 1068.9 512.1 1073.5 512.6C1078.2 513.1 1083.5 515 1087.4 517.5C1091.3 519.9 1094.5 523.2 1097.1 527.2C1099.8 531.1 1102.4 536.2 1103.4 541C1104.3 545.9 1103.7 551.2 1102.7 556.3C1101.6 561.4 1099.7 566.9 1097.1 571.6C1094.6 576.2 1091.1 580.6 1087.4 584.1C1083.7 587.5 1079.3 590.3 1074.9 592.4C1070.5 594.5 1065.4 596.1 1061 596.5C1056.7 597 1052.3 596.8 1048.6 595.1C1044.9 593.5 1041.2 589.8 1038.8 586.8C1036.5 583.8 1035.3 580.6 1034.4 577.1C1033.5 573.6 1033.6 570.6 1033.3 566Z"/></g>
<g stroke="#141414" stroke-width="1.1"><path d="M1096.8 605.6C1096.5 598.5 1097.1 593.1 1098.5 586.8C1100 580.6 1102.2 574 1105.4 568.1C1108.5 562.1 1112.8 556.1 1117.3 551C1121.9 545.9 1127 541.3 1132.7 537.3C1138.4 533.3 1145.2 529.4 1151.5 527.1C1157.7 524.7 1164 523.5 1170.2 523.3C1176.5 523.2 1183.3 524.2 1189 526.2C1194.7 528.3 1200.1 531.5 1204.4 535.6C1208.7 539.7 1212.2 545.3 1214.6 551C1217.1 556.7 1218.6 563.2 1218.9 569.8C1219.2 576.3 1218.2 583.4 1216.3 590.2C1214.5 597.1 1211.5 604.2 1207.8 610.7C1204.1 617.3 1199.3 623.8 1194.1 629.5C1189 635.2 1183.1 640.6 1177.1 644.9C1171.1 649.1 1164.6 652.6 1158.3 655.1C1152 657.7 1145.5 660 1139.5 660.2C1133.5 660.5 1127.6 659.1 1122.4 656.8C1117.3 654.6 1112.5 651.1 1108.8 646.6C1105.1 642 1102.2 636.3 1100.2 629.5C1098.3 622.7 1097.1 612.7 1096.8 605.6Z"/><path d="M1107.1 639.8C1106.1 636.9 1102.4 628.7 1101.1 622.7C1099.8 616.7 1099.2 610.2 1099.4 603.9C1099.5 597.6 1100.4 591.2 1102 585.1C1103.5 579 1105.7 572.9 1108.8 567.2C1111.9 561.5 1116.2 555.8 1120.7 551C1125.3 546.1 1130.7 541.8 1136.1 538.2C1141.5 534.5 1147.5 531.3 1153.2 529.1C1158.9 527 1164.6 525.7 1170.2 525.4C1175.9 525 1184.5 526.8 1187.3 527.1"/><path d="M1131.8 602.2C1132.1 597.9 1132.3 591.7 1134.4 586.8C1136.5 582 1140.7 576.9 1144.6 573.2C1148.6 569.5 1153.7 566.3 1158.3 564.6C1162.8 562.9 1167.7 562.4 1172 562.9C1176.2 563.5 1180.8 565.5 1183.9 568.1C1187 570.6 1189.3 574.3 1190.7 578.3C1192.2 582.3 1193 587.4 1192.4 592C1191.9 596.5 1189.9 601.3 1187.3 605.6C1184.8 609.9 1181.1 614.1 1177.1 617.6C1173.1 621 1168 624.4 1163.4 626.1C1158.9 627.8 1154 628.7 1149.8 627.8C1145.5 627 1140.7 623.5 1137.8 621C1135 618.4 1133.7 615.6 1132.7 612.4C1131.7 609.3 1131.5 606.5 1131.8 602.2Z"/><path d="M1141.2 602.2C1141.4 597.4 1142.4 591.2 1144.6 586.8C1146.9 582.4 1151.2 578.4 1154.9 575.7C1158.6 573 1162.8 571.3 1166.8 570.6C1170.8 569.9 1175.4 569.9 1178.8 571.5C1182.2 573 1185.5 576.6 1187.3 580C1189.2 583.4 1190.3 587.7 1189.9 592C1189.5 596.2 1187.2 601.6 1184.8 605.6C1182.3 609.6 1178.9 613 1175.4 615.9C1171.8 618.7 1167.4 621.4 1163.4 622.7C1159.4 624 1154.7 624.7 1151.5 623.5C1148.2 622.4 1145.5 619.4 1143.8 615.9C1142.1 612.3 1141.1 607 1141.2 602.2Z"/><path d="M1142.9 603.1C1143.1 598.7 1144.1 592.5 1146.3 588.2C1148.6 583.9 1152.8 580.1 1156.2 577.4C1159.7 574.8 1163.6 573.1 1167.2 572.5C1170.8 571.8 1174.9 572 1177.9 573.5C1181 575 1184 578.2 1185.6 581.4C1187.3 584.5 1188.3 588.4 1187.8 592.3C1187.4 596.2 1185.3 601.2 1183.1 604.9C1180.8 608.6 1177.7 611.8 1174.3 614.5C1171 617.2 1166.8 619.8 1163.1 621C1159.4 622.2 1155.1 622.7 1152.1 621.7C1149.2 620.6 1146.7 617.6 1145.1 614.5C1143.6 611.4 1142.7 607.4 1142.9 603.1Z"/><path d="M1148.9 581.7C1150.2 581 1154.2 578 1156.6 577.4C1159 576.9 1161.7 577 1163.4 578.3C1165.1 579.6 1166.5 582.6 1166.8 585.1C1167.1 587.7 1166.3 591.1 1165.1 593.7C1164 596.2 1162 598.8 1160 600.5C1158 602.2 1155.4 603.5 1153.2 603.9C1150.9 604.3 1147.9 603.9 1146.3 603.1C1144.8 602.2 1144.2 599.5 1143.8 598.8"/><path d="M1143.8 598.8C1143.6 600.5 1142.5 605.6 1142.9 609C1143.4 612.4 1144.6 616.7 1146.3 619.3C1148.1 621.8 1152 623.5 1153.2 624.4"/><path d="M1142.9 546.7C1142.6 548 1142.6 551.7 1141.2 554.4C1139.8 557.1 1136.5 561.2 1134.4 562.9C1132.3 564.6 1129.4 564.4 1128.4 564.6"/><path d="M1132.7 574L1135.2 569.8"/><path d="M1144.6 544.1L1149.8 541.6"/><path d="M1135.2 548.4L1141.2 552.7"/><path d="M1192.4 538.2C1192.4 539.5 1193.3 543.3 1192.4 545.9C1191.6 548.4 1189.2 551.8 1187.3 553.5C1185.5 555.2 1182.3 555.7 1181.3 556.1"/><path d="M1180.5 537.3L1183.1 538.2"/><path d="M1202.7 592C1202.8 593.4 1204.4 597.8 1203.5 600.5C1202.7 603.2 1199.6 606.8 1197.6 608.2C1195.6 609.6 1192.6 608.9 1191.6 609"/><path d="M1208.7 584.3L1208.7 593.7"/><path d="M1199.3 614.1L1202.7 612.4"/><path d="M1157.4 632.1C1157.4 633.4 1158.4 637.1 1157.4 639.8C1156.4 642.5 1153.6 646.4 1151.5 648.3C1149.3 650.1 1145.8 650.4 1144.6 650.9"/><path d="M1139.5 650L1144.6 651.7"/><path d="M1161.7 632.9L1166 631.6"/><path d="M1163.4 646.6L1168.5 645.7"/><path d="M1119 605.6C1118.9 606.8 1119.2 609.9 1118.2 612.4C1117.2 615 1114.9 619.1 1113 621C1111.2 622.8 1108.1 623.1 1107.1 623.5"/><path d="M1107.9 604.8L1109.6 608.2"/><path d="M1107.1 627.8L1113 629.5"/><path d="M1124.1 619.3L1126.7 622.7"/><ellipse cx="1160.0" cy="543.8" rx="4.4" ry="5.8" transform="rotate(15 1160.0 543.8)"/><ellipse cx="1202.3" cy="565.5" rx="4.8" ry="5.8" transform="rotate(15 1202.3 565.5)"/><ellipse cx="1184.8" cy="625.2" rx="4.4" ry="5.8" transform="rotate(15 1184.8 625.2)"/><ellipse cx="1131.5" cy="641.5" rx="4.4" ry="5.8" transform="rotate(15 1131.5 641.5)"/><ellipse cx="1116.5" cy="590.8" rx="4.8" ry="5.8" transform="rotate(15 1116.5 590.8)"/><ellipse cx="1174.0" cy="547.6" rx="2.6" ry="3.2" transform="rotate(15 1174.0 547.6)"/></g>
<g stroke="#1c1c1c" stroke-width="1.5"><path d="M1127.9 561.2C1127.3 558.7 1127.9 555.1 1129.3 552.7C1130.6 550.3 1133.7 547.7 1136.1 546.7C1138.5 545.7 1141.8 545.7 1143.8 546.7C1145.8 547.7 1147.6 550.3 1148.1 552.7C1148.5 555.1 1147.6 558.8 1146.3 561.2C1145.1 563.6 1142.6 566.1 1140.4 567.2C1138.1 568.3 1134.8 569 1132.7 568.1C1130.6 567.1 1128.5 563.8 1127.9 561.2Z"/><path d="M1179.6 550.1C1179.2 547.3 1180.6 544.6 1182.2 542.4C1183.8 540.2 1186.6 537.8 1189 537C1191.4 536.1 1194.8 536.3 1196.7 537.3C1198.6 538.4 1200.2 540.9 1200.6 543.3C1201.1 545.7 1200.6 549.3 1199.3 551.8C1197.9 554.4 1194.9 557.4 1192.4 558.7C1190 559.9 1186.9 560.9 1184.8 559.5C1182.6 558.1 1180.1 553 1179.6 550.1Z"/><path d="M1195.9 590.2C1197 590.2 1200.7 589.4 1202.7 590.2C1204.7 591.1 1206.8 593.1 1207.8 595.4C1208.8 597.6 1209.2 601.3 1208.7 603.9C1208.1 606.5 1206.2 609.2 1204.4 610.7C1202.5 612.3 1199.7 613.3 1197.6 613.3C1195.4 613.3 1192.6 611.2 1191.6 610.7"/><path d="M1143.8 646.6C1143.4 643.9 1144.1 640.5 1145.5 638.1C1146.9 635.6 1149.9 633.1 1152.3 632.1C1154.7 631.1 1158.2 631.1 1160 632.1C1161.9 633.1 1163.1 635.6 1163.4 638.1C1163.7 640.5 1163 644 1161.7 646.6C1160.4 649.1 1158 652.1 1155.7 653.4C1153.5 654.7 1150 655.4 1148.1 654.3C1146.1 653.1 1144.2 649.3 1143.8 646.6Z"/><path d="M1106.2 619.3C1105.8 616.4 1106.6 613 1107.9 610.7C1109.2 608.5 1111.6 606.5 1113.9 605.6C1116.2 604.8 1119.7 604.6 1121.6 605.6C1123.4 606.6 1124.6 609.2 1125 611.6C1125.4 614 1124.9 617.6 1123.8 620.1C1122.7 622.7 1120.4 625.7 1118.2 627C1116 628.2 1112.5 629.1 1110.5 627.8C1108.5 626.5 1106.6 622.1 1106.2 619.3Z"/><path d="M1097.7 602.2C1098.1 599.4 1098.4 591 1099.9 585.1C1101.4 579.3 1103.6 572.9 1106.7 567.2C1109.9 561.4 1114.1 555.6 1118.7 550.6C1123.2 545.7 1128.4 541.2 1134 537.3C1139.7 533.5 1146.3 529.8 1152.3 527.6C1158.4 525.4 1167.3 524.7 1170.2 524.2"/><path d="M1132.7 603.1C1133.1 600.4 1133 592 1135.1 587.2C1137.1 582.3 1141.1 577.5 1145 573.9C1148.8 570.2 1153.9 567.2 1158.3 565.5C1162.7 563.8 1169.4 563.9 1171.6 563.6"/></g>
<g stroke="#141414" stroke-width="1.1"><path d="M1211.2 657.4C1211.1 655 1211.7 652.5 1212.7 649.9C1213.7 647.3 1215.2 644.3 1217.2 641.7C1219.2 639 1222.2 636.1 1224.7 634.2C1227.1 632.3 1229.8 631.3 1232.1 630.5C1234.5 629.6 1236.7 629.2 1238.8 629.3C1241 629.5 1242.7 629.9 1244.8 631.2C1246.9 632.5 1249.7 634.9 1251.5 637.2C1253.4 639.4 1254.8 642 1255.7 644.7C1256.5 647.3 1256.8 650.4 1256.8 652.9C1256.7 655.4 1256.2 657.4 1255.3 659.6C1254.4 661.8 1253.3 664.2 1251.5 666.3C1249.8 668.4 1247.2 670.8 1244.8 672.3C1242.5 673.8 1239.6 674.6 1237.4 675.3C1235.1 676 1233.6 676.7 1231.4 676.4C1229.1 676.1 1226.1 674.6 1223.9 673.4C1221.7 672.2 1219.7 670.9 1217.9 669.3C1216.2 667.7 1214.6 666.1 1213.4 664.1C1212.3 662.1 1211.3 659.7 1211.2 657.4Z"/><path d="M1223.2 661.8C1223 658.8 1223.5 655.5 1224.7 652.9C1225.8 650.3 1227.8 648 1229.9 646.1C1232 644.3 1234.9 642.7 1237.4 641.7C1239.8 640.7 1242.5 640 1244.8 640.2C1247.2 640.3 1249.8 641 1251.5 642.4C1253.3 643.8 1254.6 646.3 1255.3 648.4C1256 650.5 1256.2 652.7 1255.7 655.1C1255.2 657.5 1253.8 660.2 1252.3 662.6C1250.7 664.9 1248.6 667.4 1246.3 669.3C1244.1 671.2 1241.3 672.9 1238.8 673.8C1236.4 674.7 1233.6 675 1231.4 674.5C1229.1 674 1226.8 672.9 1225.4 670.8C1224 668.7 1223.3 664.8 1223.2 661.8Z"/><path d="M1227.3 661.8C1227.3 659.6 1227.8 656.6 1228.8 654.4C1229.7 652.1 1231.2 650 1232.9 648.4C1234.6 646.8 1236.7 645.5 1238.8 644.7C1241 643.8 1243.6 643.3 1245.6 643.5C1247.6 643.7 1249.5 644.6 1250.8 645.8C1252.1 647 1253 648.8 1253.4 650.6C1253.8 652.4 1253.6 654.5 1253 656.6C1252.5 658.7 1251.5 661.3 1250.1 663.3C1248.6 665.3 1246.2 667.1 1244.1 668.6C1242 670 1239.4 671.4 1237.4 671.9C1235.3 672.4 1233.2 672.2 1231.7 671.5C1230.3 670.9 1229.1 669.4 1228.4 667.8C1227.6 666.2 1227.2 664.1 1227.3 661.8Z"/><path d="M1229.9 664.8C1230.9 664.3 1234 663.2 1235.9 661.8C1237.7 660.5 1239.7 658.3 1241.1 656.6C1242.5 654.9 1243.5 653 1244.1 651.4C1244.7 649.8 1244.7 647.6 1244.8 646.9"/><path d="M1228.4 660.3C1228.6 659.2 1229 655.5 1229.9 653.6C1230.8 651.7 1232.1 650.4 1233.6 649.1C1235.1 647.8 1238 646.3 1238.8 645.8"/><path d="M1229.1 666.3C1229.5 666.9 1230.3 669.1 1231.4 670.1C1232.5 671 1235.1 671.6 1235.9 671.9"/><path d="M1214.2 652.1L1220.2 655.1L1224.7 645.4L1232.9 637.9L1241.8 636.8L1251.5 637.2"/><path d="M1220.2 655.1L1220.5 661.8L1213.4 664.1"/><path d="M1220.5 661.8L1223.2 670.8L1217.9 669.3"/><path d="M1226.9 632L1232.9 637.9"/><path d="M1238.8 629.7L1241.8 636.8"/><path d="M1217.2 641.7L1224.7 645.4"/><path d="M1220.9 640.2L1228.4 635.7"/><path d="M1218.7 646.9L1217.2 649.9L1219 648.8"/><path d="M1229.1 632.7L1235.1 632L1235.9 634.9"/><path d="M1241.8 631.2L1246.3 634.2"/></g>
<g stroke="#141414" stroke-width="1.1"><path d="M1042 462.8C1041.3 462.5 1039.2 461.2 1037.8 461.2C1036.4 461.2 1034.6 461.9 1033.3 462.8C1032 463.7 1030.8 465.2 1030.1 466.6C1029.4 468.1 1029.2 470.3 1029.2 471.8C1029.2 473.3 1029.4 474.5 1030.1 475.6C1030.8 476.7 1032.3 477.7 1033.3 478.5C1034.4 479.2 1036 479.8 1036.5 480.1"/><path d="M1047.4 471.1C1047.6 470.6 1048.5 468.9 1048.4 467.9C1048.3 466.9 1047.6 465.7 1046.8 465C1046 464.4 1044.7 463.8 1043.6 463.8C1042.4 463.7 1041 463.9 1039.7 464.7C1038.5 465.5 1037.1 467.1 1036.2 468.6C1035.4 470.1 1034.8 472.2 1034.6 473.7C1034.4 475.2 1034.7 476.4 1035.2 477.5C1035.8 478.7 1036.8 479.9 1037.8 480.4C1038.8 480.9 1039.9 480.9 1041 480.7C1042.1 480.6 1043.7 479.7 1044.2 479.5"/><path d="M1046.8 469.9C1046.3 469.7 1045.1 468.9 1044.2 468.9C1043.4 468.8 1042.4 469 1041.6 469.5C1040.9 470.1 1040.2 471.1 1039.7 472.1C1039.3 473.1 1039 474.6 1039.1 475.6C1039.2 476.6 1039.6 477.5 1040.4 478.2C1041.1 478.8 1043 479.2 1043.6 479.5"/><path d="M1037.8 461.2L1043.6 463.8"/><path d="M1033.3 478.5L1037.8 480.6"/><path d="M1046.8 469.9L1066.6 482"/><path d="M1043.6 479.5L1059.9 488.7"/><path d="M1049.3 471.5C1048.8 471.8 1047 472.8 1046.1 473.7C1045.3 474.6 1044.5 475.9 1044.2 476.9C1043.9 477.9 1044.5 479 1044.5 479.5"/><path d="M1054.5 474.7C1053.9 475 1052.1 476 1051.3 476.9C1050.4 477.8 1049.6 479.2 1049.3 480.1C1049.1 481 1049.6 482 1049.7 482.3"/><path d="M1059.6 477.5C1059 477.9 1057.2 478.9 1056.4 479.8C1055.5 480.7 1054.7 482.1 1054.5 483C1054.2 483.9 1054.7 484.8 1054.8 485.2"/><path d="M1064.7 480.7C1064.2 481.1 1062.4 482.1 1061.5 483C1060.6 483.8 1059.8 485 1059.6 485.9C1059.3 486.8 1059.8 488 1059.9 488.4"/><path d="M1064.7 480.7C1065 480.9 1066.2 481.4 1066.6 482C1067 482.7 1067.2 483.7 1066.9 484.6C1066.7 485.5 1066 486.8 1065.3 487.5C1064.6 488.2 1063.7 488.5 1062.8 488.7C1061.9 488.9 1060.5 488.6 1060.1 488.6"/></g>
<g stroke="#141414" stroke-width="1.1"><path d="M926.4 455.3L949.5 455.3"/><path d="M949.5 455.3C949.9 455.4 950.9 455.7 951.8 456.1C952.6 456.4 954.2 457.3 954.7 457.6"/><path d="M954.7 457.6L959.2 457.6"/><path d="M959.2 457.6C959.7 457.9 961.2 458.4 962.2 459.4C963.2 460.5 964.2 462.2 965.2 463.9C966.2 465.6 967.4 467.9 968.2 469.9C968.9 471.9 969.5 473.6 969.7 475.8C969.9 478.1 969.8 481 969.3 483.3C968.8 485.7 967.9 487.7 966.7 490C965.5 492.4 963 496.3 962.2 497.5"/><path d="M962.2 497.5L955.5 499.4"/><path d="M955.5 499.4C955.1 499.6 953.9 500.2 953.3 500.5C952.6 500.8 951.7 501.2 951.4 501.4"/><path d="M951.4 501.4L930.1 501.4"/><path d="M924.9 457.2C924.1 457.2 921.8 457.1 920.4 457.3C919 457.6 917.7 457.9 916.7 458.7C915.7 459.4 914.8 461.2 914.4 461.7"/><path d="M926.4 499C925.7 499.1 923.9 499.7 922.6 499.7C921.4 499.7 920 499.5 918.9 499C917.8 498.5 916.8 497.6 915.9 496.8C915 495.9 914 494.3 913.7 493.8"/><ellipse cx="916.7" cy="478.5" rx="7.1" ry="14.6"/><ellipse cx="914.6" cy="478.5" rx="3.4" ry="8.2"/><path d="M963.7 462.4C964.1 463.2 965.3 465.3 965.9 466.9C966.6 468.5 967.2 471.2 967.4 472.1"/><path d="M968.6 484.1C968.3 484.8 967.2 487.4 966.7 488.5C966.2 489.7 965.8 490.4 965.6 490.8"/></g>
<g stroke="#1c1c1c" stroke-width="1.6"><path d="M926.4 455.3C927.1 455.7 929.5 456.5 930.8 457.9C932.2 459.4 933.6 461.7 934.6 463.9C935.6 466.1 936.4 468.9 936.8 471.4C937.3 473.9 937.4 476.1 937.2 478.8C937 481.6 936.5 485.1 935.7 487.8C934.9 490.5 933.5 493.1 932.3 495.3C931.2 497.4 929.2 499.6 928.6 500.5"/><path d="M924.9 457.2C925.6 457.9 928.1 459.8 929.4 461.7C930.6 463.5 931.7 465.8 932.3 468.4C933 471 933.5 474.4 933.5 477.3C933.5 480.3 932.9 483.7 932.3 486.3C931.8 488.9 931.1 490.9 930.1 493C929.1 495.1 927 498 926.4 499"/><path d="M916.3 462.8C916.8 463 918.6 463 919.6 463.9C920.6 464.8 921.6 466.5 922.3 468.4C922.9 470.2 923.6 472.7 923.8 475.1C923.9 477.5 923.8 480.2 923.4 482.6C922.9 484.9 922.1 487.5 921.1 489.3C920.1 491.1 918.6 492.7 917.4 493.4C916.2 494.1 914.3 493.7 913.7 493.8"/></g>
<g stroke="#141414" stroke-width="1.1"><path d="M916.3 462.8C915.7 463.2 913.7 464 912.6 465.4C911.4 466.8 910.2 469.1 909.6 471.4C908.9 473.6 908.6 476.7 908.4 478.8C908.3 481 908.5 482.3 908.8 484.1C909.1 485.8 909.5 487.7 910.3 489.3C911.1 490.9 913.1 493 913.7 493.8"/></g>
<g stroke="#1c1c1c" stroke-width="1.3" stroke-dasharray="5 3" stroke-linecap="butt"><path d="M954.7 457.6C955.2 458.4 956.9 460.4 957.7 462.4C958.6 464.5 959.4 467.4 960 469.9C960.5 472.4 961.1 474.6 961.1 477.3C961.1 480.1 960.5 483.6 960 486.3C959.4 489 958.5 491.6 957.7 493.8C957 495.9 955.9 498.4 955.5 499.4"/></g>
<g stroke="#141414" stroke-width="1.1"><path d="M874 588.6C874.5 587.3 875.5 583.2 876.8 580.6C878.1 578.1 879.5 575.5 881.6 573.4C883.8 571.3 887 569 889.6 567.8C892.3 566.6 894.9 566.2 897.4 566.2C899.9 566.2 902.4 566.7 904.8 567.8C907.3 568.9 909.9 570.7 912 572.6C914.2 574.5 916.2 576.9 917.6 579C919 581.2 920 583.3 920.4 585.4C920.8 587.6 920.6 589.6 920 591.8C919.4 594.1 917.9 596.8 916.8 599C915.8 601.3 914.2 604.4 913.6 605.4"/><path d="M877.2 601.4C877.3 599.3 877.7 596.3 878.8 594.2C879.9 592.2 882 590.2 884 589C886.1 587.8 888.8 587.1 891.2 587C893.6 587 896.3 587.6 898.4 588.6C900.6 589.7 902.6 591.6 904 593.4C905.5 595.3 906.8 597.7 907.2 599.8C907.6 602 907.2 604.2 906.4 606.2C905.6 608.2 904.2 610.4 902.4 611.8C900.7 613.3 898.3 614.5 896 615C893.8 615.6 891.1 615.6 888.8 615C886.6 614.5 884.2 613.2 882.4 611.8C880.7 610.5 879.3 608.8 878.4 607C877.5 605.3 877.1 603.6 877.2 601.4Z"/></g>
<g stroke="#1c1c1c" stroke-width="1.2"><path d="M872.4 598.2C872.1 595.3 872.6 592.5 873.6 590.2C874.6 588 876.4 586.1 878.4 584.6C880.4 583.2 883.1 582 885.6 581.4C888.2 580.8 891 580.8 893.6 581C896.3 581.3 899.1 581.9 901.6 583C904.2 584.2 907 586 908.8 587.8C910.7 589.7 912.1 592 912.8 594.2C913.6 596.5 913.6 598.9 913.2 601.4C912.8 604 911.8 607 910.4 609.4C909 611.8 907.1 614.2 904.8 615.8C902.6 617.4 899.5 618.7 896.8 619.1C894.2 619.5 891.5 619.1 888.8 618.3C886.2 617.4 883.1 616 880.8 614.2C878.5 612.5 876.6 610.5 875.2 607.8C873.8 605.2 872.7 601.2 872.4 598.2Z"/><path d="M873.2 598.6C872.9 595.9 873.4 593.2 874.4 591C875.4 588.8 877.2 586.9 879.2 585.4C881.2 584 884 582.9 886.4 582.4C888.9 581.8 891.5 581.8 894 582.1C896.6 582.3 899.3 582.9 901.6 584C904 585.1 906.3 586.9 908 588.6C909.7 590.4 911.2 592.5 911.9 594.6C912.6 596.8 912.6 599.1 912.2 601.4C911.8 603.8 911 606.6 909.6 608.8C908.3 611 906.4 613.4 904.2 614.9C902 616.4 899 617.6 896.5 617.9C894 618.3 891.5 617.9 889 617.1C886.5 616.4 883.6 614.9 881.5 613.3C879.3 611.7 877.4 609.9 876 607.4C874.6 605 873.5 601.4 873.2 598.6Z"/></g>
<g stroke="#1c1c1c" stroke-width="1.2" stroke-dasharray="4 2" stroke-linecap="butt"><ellipse cx="892.0" cy="601.4" rx="7.0" ry="6.8"/></g>
<g stroke="#1c1c1c" stroke-width="1.4"><path d="M824.2 653.2L819.7 657L819.3 661.8L834.3 671.9L842.5 666.7L842.5 665.2L835.4 659.6L831.7 659.2L828.7 656.6Z"/><path d="M842.5 665.9L846.2 675.6"/><path d="M843.2 667.4L845.9 674.9"/><path d="M846.6 679.4L851.5 689.8L856.3 699.5"/><path d="M847.4 680.9L851.8 691.3L855.6 698.8"/></g>
<g stroke="#1c1c1c" stroke-width="1.1"><path d="M838.4 673.4L842.1 680.1L846.6 679"/><path d="M832 679.7C832.5 680.4 833.5 683 834.7 683.8C835.8 684.7 837.8 685.1 839.1 685C840.5 684.8 841.7 683.9 842.9 683.1C844 682.3 845.4 680.6 845.9 680.1"/><path d="M832 679.7L835.4 680.1"/><path d="M832.4 681.6L834.7 687.6L841.4 693.9L848.5 693.9L851.1 689.8L848.8 689.1"/><path d="M841.4 693.9L835.8 698L836.1 700.7L848.8 708.1L856.7 701.4L855.9 698.8"/></g>
<g stroke="#141414" stroke-width="1.1"><path d="M345.5 618.6C345.9 617.4 347.9 614.2 347.9 611.8C347.9 609.5 346.1 606.7 345.5 604.4C344.9 602.2 344 600.4 344.3 598.3C344.6 596.3 345.7 593.8 347.3 592.2C349 590.5 351.7 589.3 354.1 588.5C356.4 587.7 358.6 587.5 361.4 587.3C364.3 587.1 368 587 371.3 587.3C374.5 587.5 379.4 588.5 381.1 588.7"/><path d="M381.1 588.7L424.6 605.1"/><path d="M424.6 605.1C425.2 605.8 427.9 607.8 428.3 609.4C428.7 610.9 428.2 612.7 427.1 614.3C426 615.8 423.9 617.2 421.6 618.6C419.2 619.9 416 621.3 413 622.2C409.9 623.2 406.4 623.9 403.2 624.3C399.9 624.7 396.4 624.7 393.3 624.7C390.3 624.7 386.2 624.2 384.8 624.1"/><path d="M381.1 588.7L377.4 593.4"/><path d="M381.1 588.7C383.9 589.2 392.5 590.6 398.3 591.6C404 592.5 411.3 594.4 415.4 594.6C419.5 594.8 420.7 593.2 422.8 592.8C424.8 592.4 425.9 592.1 427.7 592.2C429.5 592.2 432 592.4 433.8 593.2C435.7 593.9 436.9 595.8 438.7 596.8C440.6 597.9 442.2 598.7 444.9 599.3C447.5 599.8 451.3 600.2 454.7 600.2C458 600.2 463.3 599.4 465 599.3"/><ellipse cx="429.2" cy="595.2" rx="3.7" ry="2.1" transform="rotate(-5 429.2 595.2)"/><path d="M426.5 595.4L432 595"/><path d="M353.5 601.4C352.9 602.3 352 603.9 352.2 605.1C352.4 606.2 353.6 607.7 354.7 608.1C355.8 608.6 357.8 607.8 359 607.9C360.2 608 360.4 608.3 362.1 608.7C363.7 609.2 367.2 610.6 368.8 610.6C370.4 610.6 371.4 609.6 371.9 608.7C372.4 607.9 372.4 606.5 371.9 605.7C371.4 604.9 370.3 604.3 368.8 603.8C367.3 603.3 364.2 602.7 362.7 602.6C361.1 602.5 360.3 603.8 359.6 603.5C358.9 603.2 359 601.4 358.4 600.8C357.8 600.1 356.7 599.4 355.9 599.5C355.1 599.6 354.1 600.5 353.5 601.4Z"/><path d="M324.6 624.1C324 624.8 323.2 626.1 323.4 627.1C323.6 628.2 324.7 629.7 325.9 630.2C327 630.7 328.9 629.9 330.2 630.2C331.4 630.5 331.7 631.5 333.2 632.1C334.8 632.6 337.7 633.3 339.4 633.3C341 633.2 342.5 632.5 343 631.7C343.5 630.9 343 629.2 342.4 628.4C341.8 627.5 340.8 627.1 339.4 626.5C337.9 626 335.3 625.1 333.8 625.1C332.4 625 331.5 626.6 330.8 626.3C330.1 626 330.2 624.1 329.5 623.5C328.9 622.9 327.9 622.5 327.1 622.6C326.3 622.7 325.2 623.3 324.6 624.1Z"/><path d="M386 624.1C385.5 623.3 383.5 621 382.9 619.2C382.3 617.3 381.9 614.8 382.3 613C382.7 611.3 383.9 609.7 385.4 608.7C386.8 607.8 389 607 390.9 607.1C392.7 607.2 394.8 608.2 396.4 609.4C398 610.5 399.8 612.6 400.7 614.3C401.6 615.9 401.8 617.5 401.9 619.2C402 620.8 401.4 623.3 401.3 624.1"/><path d="M354.1 636.3C354 634.3 353.9 633.1 354.7 632.1C355.5 631 357.5 630.4 359 630.2C360.5 630 362.5 630.2 363.9 630.8C365.3 631.4 366.9 632.6 367.6 633.9C368.3 635.2 367.5 637.8 368.2 638.8C368.9 639.8 371.2 639.1 371.9 640C372.5 641 372.8 642.9 372.2 644.3C371.7 645.8 370.2 647.7 368.8 648.6C367.4 649.6 365.5 650.1 363.9 650.1C362.3 650.1 360.4 649.6 359 648.6C357.6 647.7 356.1 646.4 355.3 644.3C354.5 642.3 354.2 638.4 354.1 636.3Z"/><path d="M329.5 611.8C328.5 611.9 325.3 611.7 323.4 612.4C321.5 613.1 319.2 614.5 317.9 616.1C316.6 617.7 315.7 620.1 315.4 622.2C315.1 624.4 315.3 627 316 629C316.8 630.9 319 631.1 319.7 633.9C320.4 636.7 320.2 643.6 320.3 645.6"/><path d="M320.3 645.6C323.9 646.5 334.1 648.9 341.8 651.1C349.5 653.2 358.2 656.2 366.3 658.4C374.5 660.7 383.7 662.7 390.9 664.6C398 666.4 403.2 667.4 409.3 669.5C415.4 671.5 422.6 674.6 427.7 676.8C432.8 679.1 435.9 681 440 683C444.1 684.9 449.4 687.3 452.2 688.5C455.1 689.7 456.3 689.7 457.1 690"/><path d="M329.5 612.4C332.2 613.3 339.8 615.7 345.5 617.9C351.2 620.2 357.6 623.1 363.9 625.9C370.2 628.8 377 632.1 383.5 635.1C390.1 638.2 395.8 641 403.2 644.3C410.5 647.7 420.5 652.3 427.7 655.4C434.9 658.4 439.9 660.5 446.1 662.7C452.3 665 461.9 667.8 465 668.9"/><path d="M331.4 611.8C334 612.6 341.5 614.7 347.3 616.7C353.2 618.8 359.9 621.4 366.3 624.1C372.8 626.7 379.4 629.7 386 632.7C392.5 635.6 398.7 638.7 405.6 641.9C412.6 645 421 648.7 427.7 651.7C434.4 654.7 439.9 657.2 446.1 659.7C452.3 662.1 461.9 665.3 465 666.4"/><path d="M347.3 616.1C350.9 617.1 361.5 619.8 368.8 622.2C376.1 624.7 383.1 627.6 390.9 630.8C398.7 634.1 407.2 638.1 415.4 641.9C423.6 645.7 431.7 649.7 440 653.5C448.2 657.3 460.8 662.7 465 664.6"/><path d="M383.5 636.3C386.8 638 395.8 642.7 403.2 646.2C410.5 649.6 420.5 654 427.7 657.2C434.9 660.4 439.9 662.7 446.1 665.2C452.3 667.6 461.9 670.8 465 671.9"/><ellipse cx="375.6" cy="637.3" rx="3.9" ry="2.1" transform="rotate(-10 375.6 637.3)"/><path d="M371.9 641.3C373 641.2 376.3 640.5 378.6 640.6C381 640.7 383.1 640.8 386 641.9C388.8 642.9 394.2 646 395.8 646.8"/><path d="M372.5 642.7C374.3 642.7 380.1 641.9 383.5 642.7C387 643.5 389.7 645.8 393.3 647.6C397 649.5 399.9 651.1 405.6 653.8C411.3 656.4 421 660.9 427.7 663.6C434.4 666.2 439.9 668 446.1 669.7C452.3 671.4 461.9 673.1 465 673.8"/><path d="M428.9 622.2L431.4 619.2"/><path d="M438.1 613L443.7 610.6"/><path d="M438.7 621L446.1 616.7"/><path d="M408.1 631.4L412.4 632.4"/><path d="M433.8 634.5C434.7 635.6 436.5 639.3 438.7 641.3C441 643.2 444.3 644.8 447.3 646.2C450.4 647.5 454.2 648.4 457.1 649.2C460.1 650.1 463.7 650.8 465 651.1"/><path d="M413 638.8C414.6 639.3 419.5 640.6 422.8 641.9C426.1 643.1 430.1 645.1 432.6 646.2C435.2 647.2 437.2 648 438.1 648.4"/><path d="M416 641.9L430.2 647.4"/><path d="M446.1 653.5C447.1 653.5 450.4 653.3 452.2 653.5C454.1 653.7 456.3 654.6 457.1 654.8"/><path d="M382.3 629L390.9 632.7"/></g>
<g stroke="#1c1c1c" stroke-width="1.5"><path d="M377.4 593.4L423.4 607.5"/><path d="M415.4 598.1L440 601L447.3 599.8"/></g>
<g stroke="#141414" stroke-width="1.1"><path d="M447.4 600C450.2 599.9 457.6 599.4 464.5 599.5C471.5 599.5 481.9 599.5 489.1 600.3C496.2 601.2 501.3 602.9 507.5 604.6C513.6 606.4 519.8 608.1 525.9 610.8C532 613.4 538.2 617 544.3 620.6C550.4 624.2 557.6 629 562.7 632.2C567.8 635.5 572.9 638.9 575 640.2"/><path d="M440 601.2L447.4 600"/><path d="M522.2 619.4C523.2 620.4 526.9 623.2 528.3 625.5C529.8 627.7 530.8 630.4 530.8 632.9C530.8 635.3 530 638 528.3 640.2C526.7 642.5 524.3 644.7 521 646.3C517.7 648 513.2 649.2 508.7 650C504.2 650.8 498.9 651.2 494 651.3C489.1 651.4 484.2 651.1 479.3 650.6C474.4 650.2 469 649.7 464.5 648.8C460 647.9 456.4 646.6 452.3 645.1C448.2 643.7 442 641 440 640.2"/><path d="M467 648.8L479.3 645.1"/><path d="M495.2 642.7C496.2 642.4 499.3 640.8 501.3 640.8C503.4 640.8 505.6 641.5 507.5 642.7C509.3 643.8 511.6 646.8 512.4 647.6"/><path d="M500.1 637.1L502.6 635.3"/><path d="M490.9 641.4L492.8 642.7"/><path d="M495.2 643.9L496.4 645.1"/><path d="M440 611.4L443.7 610.2"/><path d="M440 620L446.1 616.7"/><path d="M526.5 645.1L529.6 642.1"/><path d="M530.8 647.6L535.7 643.7"/><path d="M533.3 657.4C533.9 656.6 535.5 653.8 536.9 652.5C538.4 651.2 539.6 650.4 541.8 649.8C544.1 649.2 547.4 649 550.4 649C553.5 649.1 557 649.4 560.2 650C563.5 650.7 566.8 651.9 570.1 653.1C573.3 654.3 577 656.2 579.9 657.4C582.7 658.6 585 659.5 587.2 660.1C589.5 660.7 592.4 660.9 593.4 661.1"/><path d="M533.3 657.4C534.1 658.2 535.9 660.8 538.2 662.3C540.4 663.8 543.7 665.4 546.7 666.6C549.8 667.8 553.9 668.9 556.6 669.7C559.2 670.4 561.7 670.7 562.7 670.9"/><path d="M541.8 649.8C542.5 650.8 543.7 653.9 545.5 656.2C547.4 658.5 550 661.3 552.9 663.5C555.7 665.8 561.1 668.6 562.7 669.7"/><path d="M559 653.7L565.2 657.4"/><path d="M562.7 658.6L566.4 660.5"/><path d="M570.1 649.4L573.7 650.6"/><path d="M579.9 653.7C581.1 654.3 584.8 656.3 587.2 657.4C589.7 658.5 592.5 659.2 594.6 660.1C596.7 661 599.1 662.4 600 662.9"/><path d="M566.4 672.4L573.7 671.5"/><path d="M572.5 662.5L575 663.5"/><path d="M567.6 657.4L598.3 670.9"/><path d="M567.6 635.3L600 651.9"/><path d="M470.7 657.4L470.7 662.9"/><path d="M470.7 657.4L528.3 670.3"/><path d="M470.7 662.9L489.1 663.5"/><path d="M440 654.9C442.5 655.6 449.6 657.3 454.7 658.6C459.8 659.9 468 662.2 470.7 662.9"/><path d="M446.1 653.1L456.6 654.9"/><path d="M583.6 674L598.3 675.8L595.8 683.2"/><path d="M530.8 676.4L559.6 678.9"/><path d="M505 681.9L518.5 682.5L508.7 684.4L525.9 683.2"/><path d="M440 683.2C443.1 684.6 452.3 689.5 458.4 691.7C464.5 694 470.7 695.4 476.8 696.7C482.9 697.9 489.1 698.5 495.2 699.1C501.3 699.7 510.6 700.1 513.6 700.3"/><path d="M527.7 680.7C527.7 680 529.7 679.7 530.8 680.1C531.9 680.5 534 682.2 534.5 683.2C535 684.1 534.5 685.4 533.9 685.6C533.3 685.8 531.8 685.2 530.8 684.4C529.8 683.6 527.7 681.4 527.7 680.7Z"/><path d="M534.5 684.4L538.2 689.3L545.5 690.3L552.9 685.6L562.7 683.8"/><ellipse cx="542.5" cy="685.4" rx="3.7" ry="2.1"/><ellipse cx="558.8" cy="693.2" rx="2.9" ry="3.9" transform="rotate(-30 558.8 693.2)"/></g>
<g stroke="#1c1c1c" stroke-width="1.8"><ellipse cx="542.5" cy="685.4" rx="1.5" ry="0.7"/></g>
<g stroke="#1c1c1c" stroke-width="0.9"><path d="M345 616.6C348.5 617.8 359.2 621 366 623.6C372.8 626.2 379.4 629.3 386 632.2C392.6 635.1 398.3 637.8 405.6 641.2C412.9 644.6 422.7 649.3 430 652.5C437.3 655.7 443.1 658.3 449.6 660.3C456.1 662.3 462.7 663.3 469.2 664.7C475.7 666.1 482.3 667.3 488.8 668.6C495.3 669.9 501.9 671.3 508.4 672.5C514.9 673.7 521.5 674.7 528 675.7C534.5 676.7 540.3 677.5 547.6 678.4C554.9 679.3 563.9 680.3 572 681C580.1 681.7 592 682.3 596 682.6"/><path d="M345 618.4C348.5 619.7 359.2 623.5 366 626.4C372.8 629.3 379.4 632.5 386 635.6C392.6 638.7 398.3 641.6 405.6 645.2C412.9 648.9 422.7 654.1 430 657.5C437.3 660.9 443.1 663.5 449.6 665.6C456.1 667.7 462.7 668.8 469.2 670.1C475.7 671.4 482.3 672.4 488.8 673.5C495.3 674.6 501.9 675.9 508.4 677C514.9 678.1 521.5 679.1 528 679.9C534.5 680.7 540.3 681.2 547.6 681.9C554.9 682.5 563.6 683.3 572 683.8C580.4 684.3 593.7 684.6 598 684.8"/></g>
<g stroke="#1c1c1c" stroke-width="0.9"><path d="M343.8 618.4L348.2 617.7"/><path d="M346.1 618.8L350.5 618.4"/><path d="M348.4 619.7L352.8 619.2"/><path d="M350.7 620.6L355.1 620"/><path d="M353 621.4L357.4 620.7"/><path d="M355.3 622.3L359.7 621.5"/><path d="M357.6 623.2L362 622.3"/><path d="M359.9 624.1L364.3 623"/><path d="M362.2 625L366.6 623.9"/><path d="M364.5 625.8L368.9 624.8"/><path d="M366.8 626.8L371.2 625.8"/><path d="M369.1 627.8L373.5 626.8"/><path d="M371.4 628.9L375.8 627.8"/><path d="M373.7 629.9L378.1 628.8"/><path d="M376 631L380.4 629.8"/><path d="M378.3 632.1L382.7 630.8"/><path d="M380.6 633.1L385 631.8"/><path d="M382.9 634.2L387.3 632.8"/><path d="M385.2 635.2L389.6 633.9"/><path d="M387.5 636.3L391.9 634.9"/><path d="M389.8 637.5L394.2 636"/><path d="M392.1 638.6L396.5 637"/><path d="M394.4 639.7L398.8 638.1"/><path d="M396.7 640.8L401.1 639.1"/><path d="M399 642L403.4 640.2"/><path d="M401.3 643.1L405.7 641.2"/><path d="M403.6 644.2L408 642.3"/><path d="M405.9 645.4L410.3 643.4"/><path d="M408.2 646.5L412.6 644.4"/><path d="M410.5 647.7L414.9 645.5"/><path d="M412.8 648.8L417.2 646.6"/><path d="M415.1 650L419.5 647.6"/><path d="M417.4 651.1L421.8 648.7"/><path d="M419.7 652.3L424.1 649.8"/><path d="M422 653.5L426.4 650.8"/><path d="M424.3 654.6L428.7 651.9"/><path d="M426.6 655.8L431 652.9"/><path d="M428.9 656.9L433.3 653.8"/><path d="M431.2 658L435.6 654.7"/><path d="M433.5 658.9L437.9 655.6"/><path d="M435.8 659.9L440.2 656.6"/><path d="M438.1 660.8L442.5 657.5"/><path d="M440.4 661.8L444.8 658.4"/><path d="M442.7 662.7L447.1 659.3"/><path d="M445 663.7L449.4 660.2"/><path d="M447.3 664.6L451.7 660.8"/><path d="M449.6 665.6L454 661.3"/><path d="M451.9 666.1L456.3 661.8"/><path d="M454.2 666.7L458.6 662.3"/><path d="M456.5 667.2L460.9 662.8"/><path d="M458.8 667.7L463.2 663.4"/><path d="M461.1 668.2L465.5 663.9"/><path d="M463.4 668.8L467.8 664.4"/><path d="M465.7 669.3L470.1 664.9"/><path d="M468 669.8L472.4 665.3"/><path d="M470.3 670.3L474.7 665.8"/><path d="M472.6 670.7L477 666.3"/><path d="M474.9 671.1L479.3 666.7"/><path d="M477.2 671.5L481.6 667.2"/><path d="M479.5 671.9L483.9 667.6"/><path d="M481.8 672.3L486.2 668.1"/><path d="M484.1 672.7L488.5 668.5"/><path d="M486.4 673.1L490.8 669"/><path d="M488.7 673.5L493.1 669.5"/><path d="M491 673.9L495.4 669.9"/><path d="M493.3 674.3L497.7 670.4"/><path d="M495.6 674.7L500 670.8"/><path d="M497.9 675.1L502.3 671.3"/><path d="M500.2 675.5L504.6 671.7"/><path d="M502.5 675.9L506.9 672.2"/><path d="M504.8 676.4L509.2 672.6"/><path d="M507.1 676.8L511.5 673"/><path d="M509.4 677.1L513.8 673.4"/><path d="M511.7 677.5L516.1 673.8"/><path d="M514 677.8L518.4 674.1"/><path d="M516.3 678.2L520.7 674.5"/><path d="M518.6 678.5L523 674.9"/><path d="M520.9 678.8L525.3 675.3"/><path d="M523.2 679.2L527.6 675.6"/><path d="M525.5 679.5L529.9 676"/><path d="M527.8 679.9L532.2 676.3"/><path d="M530.1 680.1L534.5 676.6"/><path d="M532.4 680.3L536.8 676.9"/><path d="M534.7 680.6L539.1 677.2"/><path d="M537 680.8L541.4 677.5"/><path d="M539.3 681.1L543.7 677.9"/><path d="M541.6 681.3L546 678.2"/><path d="M543.9 681.5L548.3 678.5"/><path d="M546.2 681.8L550.6 678.7"/><path d="M548.5 682L552.9 679"/><path d="M550.8 682.1L555.2 679.2"/><path d="M553.1 682.3L557.5 679.5"/><path d="M555.4 682.5L559.8 679.7"/><path d="M557.7 682.7L562.1 679.9"/><path d="M560 682.9L564.4 680.2"/><path d="M562.3 683L566.7 680.4"/><path d="M564.6 683.2L569 680.7"/><path d="M566.9 683.4L571.3 680.9"/><path d="M569.2 683.6L573.6 681.1"/><path d="M571.5 683.8L575.9 681.3"/><path d="M573.8 683.9L578.2 681.4"/><path d="M576.1 684L580.5 681.6"/><path d="M578.4 684L582.8 681.7"/><path d="M580.7 684.1L585.1 681.9"/><path d="M583 684.2L587.4 682"/><path d="M585.3 684.3L589.7 682.2"/><path d="M587.6 684.4L592 682.3"/><path d="M589.9 684.5L594.3 682.5"/></g>
<g stroke="#141414" stroke-width="1.1"><path d="M573.6 640.2C575.1 640.4 579.8 641.3 582.6 641.3C585.4 641.4 588 640.7 590.4 640.6C592.9 640.4 595.3 640.2 597.2 640.6C599 640.9 600.5 641.7 601.7 642.5C602.8 643.2 603.8 644.2 603.9 645.3C604 646.3 602.6 647.7 602.2 648.6C601.8 649.6 601.7 650.5 601.7 650.9"/><ellipse cx="595.5" cy="643.9" rx="3.9" ry="1.8"/><ellipse cx="595.5" cy="643.9" rx="2.1" ry="0.9"/><path d="M573.6 640.2L601.7 652"/><path d="M575.9 639.1L600.5 650.9"/><path d="M601.7 650.9C602.6 651.5 604.8 653.6 607.3 654.8C609.7 656 613.2 657.2 616.2 658.2C619.2 659.1 622 660 625.2 660.7C628.4 661.5 632.7 661.9 635.3 662.6C637.9 663.4 639.2 664.3 640.9 665.4C642.6 666.6 644 668.1 645.4 669.4C646.8 670.7 648.2 671.9 649.3 673.3C650.4 674.7 651.4 676.1 652.1 677.8C652.8 679.5 653.4 681.7 653.4 683.4C653.4 685.1 653.1 686.4 652.1 687.9C651.1 689.4 648.4 691.6 647.6 692.3"/><path d="M647.6 692.3L635.3 699.6"/><path d="M644.8 668.8C645.6 669.7 648.1 672.5 649.3 674.4C650.5 676.3 651.5 678.3 652.1 680C652.7 681.7 652.6 683.8 652.7 684.5"/><path d="M619.6 680.6C620.5 680.9 623.3 681.6 625.2 682.8C627.1 684 629.4 686.1 630.8 687.9C632.2 689.6 632.9 691.5 633.6 693.5C634.3 695.4 634.5 698.6 634.7 699.6"/><path d="M634.7 699.6L633 702.4L614 715.9"/><path d="M626.3 682.8C627.2 683.8 630.1 686.5 631.4 688.4C632.6 690.4 633.5 693.6 633.9 694.6"/><path d="M513.7 700.4C516.2 700.8 524.4 702 528.8 702.7C533.2 703.3 537 703.6 540 704.1C543 704.6 544.3 704.8 546.7 705.8C549.2 706.8 551.6 709.2 554.6 710.3C557.6 711.4 560.6 712.1 564.7 712.5C568.8 713 574 712.8 579.2 713.1C584.5 713.4 590.3 713.6 596 714.2C601.8 714.8 611 716.1 614 716.4"/><path d="M575.9 707.5L604.5 711.4"/><path d="M637 680C636.8 678.8 637.7 677.2 638.6 676.4C639.6 675.7 641.4 675.2 642.6 675.5C643.7 675.8 644.9 677.2 645.4 678.3C645.9 679.5 646 681.1 645.6 682.3C645.2 683.4 644.1 684.8 643.1 685.1C642.2 685.3 640.8 684.8 639.8 683.9C638.7 683.1 637.1 681.3 637 680Z"/><path d="M638.4 676.9C638.2 677.4 637.1 679.2 637.3 680.2C637.5 681.3 638.9 682.6 639.8 683.4C640.6 684.1 642.1 684.5 642.6 684.7"/><path d="M618.5 694C618.3 692.7 619 691.1 619.8 690.3C620.7 689.5 622.3 688.9 623.5 689.2C624.7 689.5 626.3 691.1 626.9 692.3C627.5 693.6 627.6 695.4 627.2 696.6C626.8 697.8 625.7 699 624.6 699.3C623.6 699.6 622 699.1 620.9 698.2C619.9 697.3 618.7 695.3 618.5 694Z"/><path d="M619.9 690.8C619.7 691.3 618.6 693 618.8 694.1C619 695.3 620.3 696.9 621.2 697.7C622 698.5 623.6 698.7 624.1 698.8"/><path d="M555.7 692.3C555.8 691.4 557 690.3 557.9 690.1C558.9 689.9 560.6 690.5 561.3 691.2C562 692 562.6 693.7 562.4 694.6C562.2 695.5 561 696.5 560.2 696.6C559.3 696.8 558.1 696.2 557.4 695.5C556.6 694.8 555.6 693.2 555.7 692.3Z"/><ellipse cx="592.9" cy="701.1" rx="2.5" ry="2.5"/><path d="M542.2 649.7C544.7 649.7 552.5 648.8 556.8 649.2C561.1 649.6 564.3 650.9 568 652C571.8 653.1 576.8 654.6 579.2 655.9C581.7 657.2 580.4 659 582.6 659.8C584.8 660.7 591 660.8 592.7 661"/><path d="M542.2 649.7C542.8 650.7 544.1 653.3 545.6 655.4C547.1 657.4 550.3 661 551.2 662.1"/><path d="M540 663.2C541.1 663.9 544.3 666 546.7 667.1C549.2 668.2 551.8 669.3 554.6 669.9C557.4 670.6 562 670.9 563.5 671"/><path d="M553.5 664.3L564.1 671"/><path d="M563.5 671L574.7 671.6"/><path d="M565.8 672.7L582.6 673.3L598.3 676.1"/><path d="M598.3 676.1L595.5 682.8"/><path d="M543.4 676.4L560.2 678.3"/><path d="M560.2 653.7L598.3 670.5"/><path d="M580.9 653.1L593.8 659.8"/><path d="M562.4 658.7L566.3 660.4"/><path d="M557.9 654.8L560.7 656.5"/><path d="M570.3 649.2L573.6 650.3"/><path d="M573.1 662.6L575.9 663.8"/><path d="M601.1 664.3L608.4 668.2"/><path d="M620.7 667.7L625.2 668.6"/><path d="M628.6 669.4L644.2 670.5"/><path d="M600.5 679.5C602 679.5 606.3 679.2 609.5 679.5C612.7 679.7 617.9 680.9 619.6 681.1"/><path d="M595.5 682.8L600.5 679.5"/><path d="M540 689L546.7 689L553.5 685.6"/><path d="M579.2 690.1L590.4 691.8"/></g>
<g stroke="#1c1c1c" stroke-width="1.5"><path d="M540 678.9L562.4 682.8L595.5 682.8"/><path d="M597.2 661L600.5 659.3L618.5 659.8L616.2 661.5L602.8 661"/><path d="M597.2 686.7L607.3 685.1L618.5 681.1"/><path d="M553.5 686.7L597.2 686.7"/></g>
<g stroke="#141414" stroke-width="1.1"><path d="M313.8 687.3L329.8 679.2"/><path d="M329.8 679L333 677L338.1 685.4"/><path d="M325.9 686C326.5 686.5 327.6 688.7 329.1 689.2C330.6 689.7 333.2 689.6 334.9 689.2C336.6 688.8 338.6 687.1 339.4 686.7"/><path d="M329.8 679L325.3 686.7"/><path d="M333 677.7L336.2 687.9"/><path d="M333 677L342.6 683.5L347.7 694.1"/><path d="M277.9 679.2L276.6 699.5"/><path d="M276.6 699.5C276 700.1 274.5 702.9 272.8 703.6C271.1 704.2 268.7 703.9 266.4 703.6C264 703.2 260.7 701.5 258.7 701.4C256.7 701.2 255.7 701.3 254.2 702.7C252.7 704.1 250.5 708.5 249.7 709.7"/><path d="M240.5 708.2L240.7 726.4"/><path d="M240.7 726.4C240.2 727 239.3 729.6 237.5 730.2C235.8 730.9 233 730.5 230.5 730.2C228 729.9 225.1 727.8 222.8 728.3C220.6 728.8 218 732.6 217 733.4"/><path d="M217 733.4C217.6 734.4 218.2 737.6 220.2 739.2C222.3 740.8 224.5 741.6 229.2 743C233.9 744.4 242 745.9 248.4 747.5C254.8 749.1 261.2 750.8 267.6 752.6C274.1 754.4 280.5 756.4 286.9 758.4C293.3 760.4 299.7 762.5 306.1 764.8C312.5 767.1 320 770.2 325.3 772.5C330.6 774.7 336 777.3 338.1 778.3"/><path d="M356 785.3L370 788.5"/><path d="M256.1 709.1L305.4 721.2"/><path d="M291.3 690.5L294.6 689.2L293.9 725.1L290.7 723.8Z"/><path d="M329.1 698.8L332.7 697.2L331.7 730.2L328.5 730.2Z"/><path d="M330.4 721.2L331.1 727.6"/><path d="M269.6 717.4C270.1 718 272.9 719.7 272.8 721.2C272.7 722.7 269.7 724.8 268.9 726.4C268.2 728 267.6 729.8 268.3 730.9C268.9 731.9 272 732.5 272.8 732.8"/><path d="M276.6 719.3L272.8 726.4L274.1 731.5"/><path d="M276.6 719.3L281.7 726.4L283.7 730.2"/><path d="M276.6 719.3L278.5 726.4L279.2 730.9"/><path d="M270.2 730.2C270.9 729.9 272.6 728.3 274.1 728.3C275.5 728.3 277.4 730.2 279.2 730.2C281 730.2 284 728.6 284.9 728.3"/><path d="M279.8 720.6L284.3 726.4"/><path d="M272.8 733.4C274.3 733.2 278.5 732.5 281.7 732.1C284.9 731.8 288.1 731.4 292 731.5C295.8 731.6 302.7 732.6 304.8 732.8"/><path d="M272.8 735.3L276.6 736.6"/><path d="M279.2 737.6L285.6 738.3"/><path d="M288.4 733.4L288.4 738.5"/><path d="M305.4 732.8L306.7 756.5"/><ellipse cx="354.1" cy="755.2" rx="3.2" ry="1.3" transform="rotate(-10 354.1 755.2)"/></g>
<g stroke="#1c1c1c" stroke-width="1.4"><path d="M277.9 679.2L370 698.8"/><path d="M240.5 708.2L289.4 723.8"/><path d="M289.4 723.8C292 725.1 299.9 728.5 304.8 731.5C309.7 734.5 314.4 738.8 318.9 741.7C323.4 744.7 327.4 747.3 331.7 749.4C336 751.6 340.2 753.2 344.5 754.6C348.8 755.9 353.1 756.8 357.3 757.8C361.6 758.7 367.9 759.9 370 760.3"/></g>
<g stroke="#141414" stroke-width="1.1"><path d="M474.8 729.4C476.1 729.6 480.1 730.7 482.8 730.7C485.4 730.7 488.5 730.1 490.8 729.4C493 728.6 495.2 726.6 496.1 726"/><path d="M473.4 730L505.4 746L516.1 749.4"/><path d="M498.1 724.7L500.1 724.4L504.8 733.4"/><path d="M498.1 724.7L494.8 731.4"/><path d="M499.4 726L501.4 734"/><path d="M492.1 732.7C492 733.3 490.5 735.1 491.4 736C492.3 736.9 495.2 738 497.4 738C499.7 738 503.6 736.4 504.8 736"/><path d="M491.4 732.7L494.8 732"/><path d="M505.4 730L510.1 734L506.8 742"/><path d="M516.1 749.4L515.5 776.7"/><path d="M515.5 776.7C514.9 778.3 513.8 783 512.1 786.1C510.5 789.2 508.6 792.1 505.4 795.4C502.3 798.8 495.4 804.3 493.4 806.1"/><path d="M493.4 806.1L488.1 806.8"/><path d="M513.5 778.7C512.8 780.4 511.4 785.6 509.7 788.5C508.1 791.4 506.1 793.4 503.4 796.1C500.8 798.8 495.7 803.1 494.1 804.5"/><path d="M360 786.1C364.4 787.2 377.8 790.5 386.7 792.7C395.6 795 405.6 797.4 413.4 799.4C421.2 801.4 427.2 803.2 433.4 804.8C439.6 806.3 445.6 807.9 450.7 808.8C455.9 809.7 461.9 809.9 464.1 810.1"/><path d="M464.1 810.1C466.1 809.9 472.1 809.2 476.1 808.8C480.1 808.3 486.1 807.6 488.1 807.4"/><path d="M429.4 769.4L434.7 778.1L440.1 780.7L450.7 780.7L462.7 775.4L468.1 775.4"/><path d="M430.7 769.4C432.3 769.3 436.3 768.4 440.1 768.7C443.8 769.1 449 770.5 453.4 771.4C457.9 772.3 464.5 773.6 466.8 774.1"/><path d="M444.1 766.7L446.7 766.5L450.7 775.4"/><path d="M444.1 766.7L440.1 774.1"/><path d="M445.4 768.1L447.4 776.7"/><path d="M438.7 775.4C438.8 776 438.3 778 439.4 778.7C440.5 779.5 443.3 780.3 445.4 780.1C447.5 779.8 451 777.8 452.1 777.4"/><path d="M443.4 782.7L444.1 785.4"/><path d="M447.4 783.4L448.1 786.1"/><path d="M406 707.3L409.4 706.3L409.4 728.7L406 730.7Z"/><path d="M467.4 759.4L479.4 750.7"/><path d="M479.4 750.7L479.4 763.4L477.2 773.4"/><path d="M467.4 759.4L466.8 773.4"/><path d="M466.8 773.4L484.8 774.1"/><path d="M468.1 762.1L468.8 772.7"/><path d="M484.8 774.1L486.1 798.1"/><path d="M486.1 798.1C486.2 799 486.3 802.1 486.8 803.4C487.2 804.8 488.4 805.6 488.8 806.1"/><ellipse cx="489.2" cy="797.8" rx="2.9" ry="2.0"/><path d="M486.8 798.8L487.4 800.8L492.1 800.1"/><path d="M494.8 765.4L503.4 759.4L503 778.1L496.1 792.7L494.1 792.7Z"/><path d="M496.1 767.4L495.4 791.4"/></g>
<g stroke="#1c1c1c" stroke-width="1.4"><path d="M360 697.3C364 697.6 375.6 697.9 384 698.7C392.5 699.5 402.5 700.1 410.7 702C418.9 703.9 429.6 708.7 433.4 710"/><path d="M433.4 710L473.4 729.4"/><path d="M360 758.1C363.3 758.7 372.2 760.7 380 762.1C387.8 763.4 398.9 764.8 406.7 766.1C414.5 767.3 423.4 768.8 426.7 769.4"/><path d="M507.5 738.7L506.1 742.7"/></g>
<g stroke="#1c1c1c" stroke-width="1.1"><path d="M674 594.6C674 593.4 674 592.4 674.9 591.6C675.7 590.9 677.4 590.3 679.1 590.4C680.9 590.4 683.1 591.1 685.1 592.1C687.1 593.1 689.3 594.8 691.1 596.3C692.9 597.9 694.7 599.8 695.8 601.5C696.9 603.1 697.5 604.9 697.5 606.2C697.5 607.4 696.8 608.5 695.8 609.1C694.8 609.8 693.3 610.2 691.5 610C689.7 609.8 687.2 608.9 685.1 607.9C683.1 606.8 680.8 605.1 679.1 603.6C677.5 602.1 676.2 600.4 675.3 598.9C674.5 597.4 674.1 595.8 674 594.6Z"/><path d="M682.6 590.8L685.1 585.7L686.8 585.2L688.5 587.4L689.8 591.2"/><path d="M688.5 592.1L691.5 588.2L693.2 587.8L694.5 590.4L694.1 595.1"/><path d="M694.1 595.9L696.6 592.5L698.8 592.5L698.8 595.5L696.6 599.8"/><path d="M685.1 585.7L687.7 592.1"/><path d="M692.8 587.8L692 593.4"/><path d="M679.1 601.9L680.9 599.8L684.3 599.8L687.7 602.3L689 605.3L687.7 607.9L661.6 646.3L652.7 641.2Z" fill="#fff" stroke="none"/><path d="M679.1 601.9C679.4 601.5 680 600.1 680.9 599.8C681.7 599.4 683.1 599.3 684.3 599.8C685.4 600.2 686.9 601.4 687.7 602.3C688.5 603.2 689 604.4 689 605.3C689 606.2 687.9 607.4 687.7 607.9"/><path d="M679.1 601.9L652.7 641.2"/><path d="M687.7 607.9L661.6 646.3"/><path d="M652.7 641.2C651.9 641.5 651.9 642.8 652.3 643.7C652.6 644.6 653.7 646.1 654.8 646.7C656 647.3 657.9 647.7 659.1 647.6C660.2 647.4 661.4 646.6 661.6 645.9C661.9 645.1 661.1 644 660.4 643.3C659.6 642.6 658.2 641.9 657 641.6C655.7 641.2 653.5 640.8 652.7 641.2Z"/><path d="M675.6 606.9C676.2 606.9 678 606.6 678.9 606.8C679.8 607.1 680.4 607.7 681.1 608.2C681.8 608.7 682.5 609.1 683.1 609.9C683.6 610.7 684.1 612.3 684.3 612.8"/><path d="M673.3 610.4C673.9 610.4 675.6 610.1 676.5 610.3C677.4 610.5 678.1 611.1 678.8 611.6C679.5 612.1 680.2 612.6 680.8 613.3C681.3 614.1 681.8 615.7 682 616.2"/><path d="M671 613.9C671.5 613.9 673.3 613.6 674.2 613.8C675.1 614 675.7 614.6 676.4 615.1C677.1 615.6 677.8 616.1 678.4 616.8C678.9 617.6 679.4 619.2 679.7 619.6"/><path d="M668.6 617.4C669.2 617.4 670.9 617.1 671.8 617.3C672.7 617.4 673.4 618 674.1 618.5C674.8 619 675.5 619.5 676.1 620.2C676.6 621 677.1 622.6 677.4 623.1"/><path d="M666.3 620.9C666.8 620.9 668.6 620.6 669.5 620.8C670.4 620.9 671.1 621.6 671.8 622C672.5 622.5 673.2 622.9 673.8 623.7C674.3 624.4 674.8 626 675 626.5"/><path d="M663.9 624.4C664.4 624.4 666.2 624.1 667.1 624.3C668 624.4 668.7 625 669.4 625.5C670.1 625.9 670.9 626.3 671.5 627.1C672 627.8 672.5 629.4 672.7 629.9"/><path d="M661.6 627.9C662.1 627.9 663.9 627.5 664.8 627.7C665.7 627.8 666.4 628.4 667.1 628.9C667.8 629.4 668.6 629.8 669.2 630.6C669.7 631.3 670.2 632.9 670.4 633.3"/><path d="M659.2 631.4C659.7 631.4 661.6 631 662.5 631.2C663.4 631.3 664.1 631.9 664.8 632.4C665.5 632.8 666.2 633.3 666.8 634C667.3 634.7 667.8 636.3 668 636.7"/><path d="M656.9 634.8C657.4 634.8 659.2 634.5 660.1 634.7C661 634.8 661.7 635.3 662.4 635.8C663.1 636.2 663.9 636.7 664.5 637.4C665 638.1 665.5 639.7 665.7 640.1"/><path d="M654.5 638.3C655 638.3 656.9 637.9 657.8 638.1C658.7 638.2 659.4 638.8 660.1 639.3C660.8 639.7 661.6 640.1 662.2 640.8C662.7 641.5 663.2 643.1 663.4 643.6"/></g>
<g stroke="#1c1c1c" stroke-width="1.1"><path d="M440.2 512C440.5 511.5 441 509.9 441.8 509.2C442.6 508.5 443.8 507.9 445 508C446.2 508.1 447.9 508.8 449.1 509.6C450.3 510.4 451.5 511.7 452.3 512.8C453.1 513.9 453.7 515.2 453.9 516.4C454 517.6 453.2 519.4 453.1 520"/><path d="M453.1 520L449.9 523.2"/><path d="M434.2 521.6C433.9 521.2 432.7 520.1 432.2 519.2C431.7 518.3 431.2 517.1 431.3 516C431.3 514.9 431.8 513.2 432.6 512.4C433.5 511.6 434.8 511 436.2 511C437.6 511.1 439.4 511.6 441 512.7C442.6 513.7 444.5 515.5 445.8 517.2C447.2 518.9 448.5 521.1 449.1 522.8C449.7 524.6 449.8 526.4 449.5 527.6C449.1 528.9 448 529.8 447 530.3C446.1 530.7 444.8 530.7 443.8 530.3C442.8 529.8 441.5 528.1 441 527.6"/><path d="M440.2 512C440.9 512.5 442.9 513.6 444.2 514.8C445.6 516 447.3 517.8 448.3 519.2C449.2 520.6 449.6 522.6 449.9 523.2"/><path d="M434.2 521.6C434.4 521.3 434.8 520 435.4 519.6C436.1 519.2 437.3 518.9 438.2 519.2C439.2 519.5 440.4 520.4 441 521.2C441.7 522 442.2 523.1 442.2 524C442.2 525 441.2 526.4 441 526.8"/><path d="M434.2 521.6L395.8 561.2"/><path d="M441 527.6L402.2 566.1"/><path d="M408.2 548.4C408.6 548.5 409.9 548.4 410.6 548.8C411.4 549.3 412.2 550.4 412.6 551.2C413 552 413 553.2 413 553.6"/><path d="M405.4 551.2C405.8 551.4 407.1 551.5 407.8 552C408.6 552.6 409.4 553.6 409.8 554.4C410.2 555.2 410.2 556.4 410.2 556.8"/><path d="M402.6 554C403 554.2 404.3 554.3 405 554.8C405.7 555.4 406.6 556.4 407 557.2C407.4 558 407.4 559.2 407.4 559.6"/><path d="M400.2 556.8C400.6 557 401.8 557.1 402.5 557.6C403.1 558.2 403.9 559.3 404.2 560C404.6 560.8 404.5 561.9 404.6 562.3"/><path d="M397.8 559.2C398.2 559.4 399.5 559.5 400.2 560C400.9 560.6 401.6 561.6 402 562.3C402.3 563 402.2 564.1 402.2 564.5"/><path d="M395.8 561.2C395.3 561.6 395.1 562.9 395.4 563.7C395.7 564.5 396.6 565.5 397.4 566.1C398.2 566.6 399.4 566.9 400.2 566.9C401 566.8 402.1 566.4 402.2 565.8C402.3 565.2 401.6 564 401 563.3C400.4 562.5 399.5 561.6 398.6 561.2C397.7 560.9 396.3 560.8 395.8 561.2Z"/></g>
<g stroke="#1c1c1c" stroke-width="1.5"><path d="M292.3 657.1C292.3 655.6 292.8 654.9 293.5 654.1C294.3 653.3 295.9 653.3 296.5 652.4C297.2 651.5 296.7 649.5 297.4 648.5C298 647.5 299.2 646.8 300.4 646.4C301.6 646 303.4 645.7 304.6 646C305.9 646.3 306.9 647.4 308.1 648.1C309.2 648.8 310.4 649.3 311.5 650.2C312.5 651.2 313.8 652.2 314.5 653.7C315.2 655.1 315.7 657.1 315.7 658.8C315.7 660.5 315 662.6 314.5 663.9C313.9 665.3 313.4 666.1 312.3 666.9C311.3 667.7 309.5 668.4 308.1 668.6C306.6 668.8 305.4 668.2 303.8 668.2C302.2 668.2 300.1 668.9 298.7 668.6C297.2 668.3 296.2 667.4 295.2 666.5C294.3 665.5 293.6 664.6 293.1 663.1C292.6 661.5 292.2 658.6 292.3 657.1Z"/></g>
<g stroke="#1c1c1c" stroke-width="1.1"><path d="M296.5 652.4C297 652.8 298.2 653.9 299.1 654.9C300 655.9 301.6 657.8 302.1 658.4"/><path d="M299.1 650.7C299.4 650.5 300.4 649.5 301.2 649.4C302 649.3 303.4 650.1 303.8 650.2"/><path d="M303.4 654.9L308.1 651.5L309.8 652.8L309.3 656.2L312.3 660.1L309.3 661.8L305.5 662.6L303.8 659.2L305.1 657.9"/><path d="M295.2 657.9C295.3 658.4 295.3 659.8 295.7 660.5C296 661.2 297.7 661.7 297.4 662.2C297 662.7 294.2 663.3 293.5 663.5"/><path d="M298.2 664.3C298.5 664.6 299.2 665.5 299.9 665.6C300.7 665.7 302.1 665.5 302.5 664.8C302.9 664.1 302.5 661.9 302.5 661.3"/><path d="M305.5 662.6L303.8 665.6L304.6 667.8"/><path d="M310.6 661.8L307.2 667.3"/></g>
<g stroke="#1c1c1c" stroke-width="1.5"><path d="M579.2 740.5C579.3 739.1 580 737.6 580.7 736.7C581.4 735.7 582.6 735.4 583.2 734.5C583.9 733.6 583.7 732.1 584.5 731.1C585.3 730.1 586.7 729 587.9 728.5C589.2 728 590.8 727.9 592.2 728.1C593.6 728.3 595.2 729 596.5 729.8C597.8 730.6 599 731.6 599.9 732.8C600.7 734 601.1 735.7 601.6 737.1C602.1 738.5 602.8 740 602.9 741.3C602.9 742.7 602.6 744.1 602 745.2C601.5 746.3 600.5 747.5 599.5 748.2C598.4 748.9 597 749.1 595.6 749.5C594.3 749.8 592.9 750.1 591.3 750.3C589.8 750.5 587.6 750.9 586.2 750.5C584.8 750.2 583.8 749.1 582.8 748.2C581.8 747.3 580.9 746.5 580.2 745.2C579.6 743.9 579.1 741.9 579.2 740.5Z"/><path d="M587.1 734.9L589.2 736.7"/></g>
<g stroke="#1c1c1c" stroke-width="1.1"><path d="M584.5 732.8C585.1 732.6 586.8 731.6 587.9 731.5C589.1 731.5 590.1 732 591.3 732.4C592.6 732.7 594.6 733.5 595.2 733.7"/><path d="M595.2 733.7L589.2 736.7"/><path d="M595.2 733.7L596.5 737.9L599.5 741.3L597.3 743.1L592.6 744.8L589.6 742.2L590.1 739.2"/><path d="M585.8 734.5C585.8 735.1 586.3 737.2 585.8 737.9C585.3 738.7 583.3 738.5 582.8 739.2C582.3 739.9 582.5 741.4 582.8 742.2C583.2 743 584.7 743.3 584.9 743.9C585.2 744.6 584.1 745.5 584.5 746C584.9 746.6 587 747.1 587.5 747.3"/><path d="M589.2 736.7L590.5 745.6L592.2 749"/><path d="M597.3 743.1L595.6 747.3L593.1 749"/></g>
<g stroke="#222" stroke-width="1.1">
<path d="M892.8 388.4L949.2 374.3"/>
<path d="M993 383.5L1155.9 476.1L1089.6 494.3"/>
<path d="M1031.8 406L938.7 430.5L938.7 455"/>
<path d="M1061.7 423.7L985.6 444L985.6 521.5L897.3 545.5L897.3 566"/>
<path d="M1079.3 433.7L996.6 455.4L996.6 639.3L847.3 677.8"/>
<path d="M1102.4 446.8L1042.6 463"/>
<circle cx="972.5" cy="370.3" r="23.5" stroke-width="1.2"/>
</g>
<rect x="301" y="779" width="55" height="33" fill="#fe0000" stroke="none"/>
<rect x="307" y="784.3" width="43" height="22.8" fill="#fff" stroke="none"/>
<g stroke-linecap="square" stroke-linejoin="miter">
<g transform="translate(961 360)"><g class="o"><use href="#d1" x="0"/><use href="#d0" x="14"/></g><g class="i"><use href="#d1" x="0"/><use href="#d0" x="14"/></g></g>
<g transform="translate(1047 604)"><g class="o"><use href="#d2" x="0"/><use href="#d0" x="14"/></g><g class="i"><use href="#d2" x="0"/><use href="#d0" x="14"/></g></g>
<g transform="translate(1006 474)"><g class="o"><use href="#d3" x="0"/><use href="#d0" x="14"/></g><g class="i"><use href="#d3" x="0"/><use href="#d0" x="14"/></g></g>
<g transform="translate(890 500)"><g class="o"><use href="#d4" x="0"/><use href="#d0" x="14"/></g><g class="i"><use href="#d4" x="0"/><use href="#d0" x="14"/></g></g>
<g transform="translate(839 584)"><g class="o"><use href="#d5" x="0"/><use href="#d0" x="14"/></g><g class="i"><use href="#d5" x="0"/><use href="#d0" x="14"/></g></g>
<g transform="translate(802 676)"><g class="o"><use href="#d6" x="0"/><use href="#d0" x="14"/></g><g class="i"><use href="#d6" x="0"/><use href="#d0" x="14"/></g></g>
<g transform="translate(1106 665)"><g class="o"><use href="#d8" x="0"/><use href="#d0" x="14"/></g><g class="i"><use href="#d8" x="0"/><use href="#d0" x="14"/></g></g>
<g transform="translate(1216 683)"><g class="o"><use href="#d9" x="0"/><use href="#d0" x="14"/></g><g class="i"><use href="#d9" x="0"/><use href="#d0" x="14"/></g></g>
<g transform="translate(504 582)"><g class="o"><use href="#d1" x="0"/><use href="#d2" x="14"/><use href="#d0" x="28"/></g><g class="i"><use href="#d1" x="0"/><use href="#d2" x="14"/><use href="#d0" x="28"/></g></g>
<g transform="translate(677 624)"><g class="o"><use href="#d1" x="0"/><use href="#d3" x="14"/><use href="#d0" x="28"/></g><g class="i"><use href="#d1" x="0"/><use href="#d3" x="14"/><use href="#d0" x="28"/></g></g>
<g transform="translate(593 757)"><g class="o"><use href="#d1" x="0"/><use href="#d4" x="14"/><use href="#d0" x="28"/></g><g class="i"><use href="#d1" x="0"/><use href="#d4" x="14"/><use href="#d0" x="28"/></g></g>
<g transform="translate(379 521)"><g class="o"><use href="#d1" x="0"/><use href="#d6" x="14"/><use href="#d0" x="28"/></g><g class="i"><use href="#d1" x="0"/><use href="#d6" x="14"/><use href="#d0" x="28"/></g></g>
<g transform="translate(247 643)"><g class="o"><use href="#d1" x="0"/><use href="#d7" x="14"/><use href="#d0" x="28"/></g><g class="i"><use href="#d1" x="0"/><use href="#d7" x="14"/><use href="#d0" x="28"/></g></g>
<g transform="translate(308 786)"><g class="o"><use href="#d1" x="0"/><use href="#d8" x="14"/><use href="#d0" x="28"/></g><g class="i"><use href="#d1" x="0"/><use href="#d8" x="14"/><use href="#d0" x="28"/></g></g>
</g>
</svg>
</body></html>
